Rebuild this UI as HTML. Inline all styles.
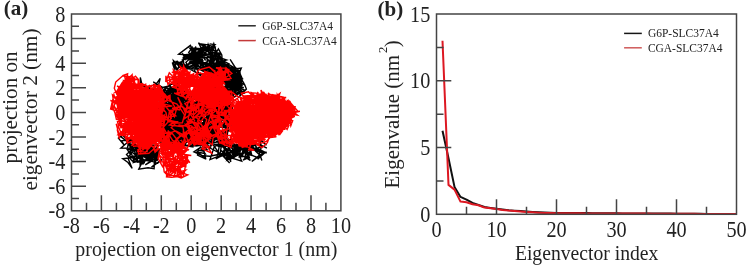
<!DOCTYPE html>
<html><head><meta charset="utf-8"><style>
html,body{margin:0;padding:0;background:#fff;}
svg{display:block;will-change:transform;}
text{font-family:"Liberation Serif", serif;fill:#222;}
</style></head><body>
<svg width="749" height="268" viewBox="0 0 749 268">
<path d="M218.6 55.8 209.9 57.3 196.0 58.4 194.7 71.3 201.2 76.2 198.2 72.1 192.5 58.6 184.5 55.8 193.7 62.5 203.5 60.8 189.4 60.1 197.8 56.9 185.4 58.4 182.3 53.2 185.8 59.5 194.9 48.2 198.9 62.1 187.7 68.9 198.1 69.0 191.1 61.1 200.0 66.8 204.8 64.6 217.1 70.4 217.3 62.6 219.4 56.1 223.1 62.6 216.7 53.1 213.8 43.6 210.6 51.4 210.2 58.9 217.4 57.8 M199.7 49.2 202.4 63.7 195.2 62.9 186.7 69.5 182.9 65.4 196.4 62.7 201.5 56.4 201.2 47.2 214.9 47.9 208.9 45.1 202.8 51.0 198.5 42.7 207.7 49.8 199.5 49.8 203.7 46.7 196.7 59.9 192.9 65.9 200.4 53.7 209.2 45.7 212.1 58.0 216.8 50.7 213.3 63.9 226.6 60.0 220.8 58.0 221.8 63.8 214.3 65.8 216.7 61.3 221.9 64.6 216.4 67.6 217.1 80.0 224.6 75.3 M216.6 63.7 213.8 70.2 226.4 72.4 225.2 64.3 220.7 67.7 213.0 62.0 219.5 54.8 222.4 61.3 214.0 71.4 214.1 65.5 210.3 71.7 216.9 73.4 204.4 66.7 213.3 73.2 219.4 77.2 218.7 72.0 218.7 63.4 222.5 58.8 217.8 67.7 220.6 73.5 225.9 67.5 228.7 77.6 223.8 68.3 230.8 67.7 225.5 66.4 225.7 79.2 216.1 83.1 219.5 77.3 223.3 63.5 218.0 60.0 216.2 70.5 M194.2 53.0 183.2 57.5 184.0 67.4 195.8 59.6 192.5 55.2 178.7 54.2 190.4 45.4 193.7 52.1 208.0 55.8 202.7 50.3 208.9 48.7 195.5 53.5 185.9 62.3 190.1 69.4 202.4 61.5 195.1 56.1 192.9 63.3 199.8 63.5 211.0 65.0 214.6 58.9 207.2 56.8 207.1 68.7 212.4 54.9 198.9 55.7 190.9 51.9 201.1 60.1 200.9 49.7 190.2 49.7 199.6 49.7 196.5 58.2 192.5 49.1 M211.4 67.6 222.7 67.2 221.8 54.9 218.4 48.8 212.7 58.5 208.1 44.5 206.8 49.6 213.9 60.2 213.0 66.9 213.9 61.9 216.6 53.2 213.4 62.3 218.3 71.1 227.2 77.4 235.8 81.3 234.1 74.9 229.0 69.0 221.8 67.7 232.7 72.7 227.4 64.6 219.9 65.4 218.3 58.0 218.7 69.6 225.5 66.5 216.0 61.4 224.6 73.0 231.3 83.9 223.8 86.8 229.1 91.5 242.2 85.2 238.1 76.1 M230.4 83.7 231.7 90.9 231.8 76.1 229.6 86.4 235.1 91.0 227.2 80.7 220.3 77.7 215.6 71.1 205.7 68.8 217.4 63.6 221.0 72.9 213.2 75.6 202.2 68.8 216.0 66.1 204.2 63.2 209.2 60.5 197.9 51.0 200.5 56.4 203.2 65.3 194.0 54.6 188.0 54.5 191.8 58.3 201.8 50.6 190.1 54.7 190.1 63.0 193.7 58.7 193.0 51.1 201.7 59.0 207.1 50.6 214.9 44.6 209.6 43.9 M210.7 63.2 204.4 68.5 208.4 72.5 211.5 62.7 208.3 69.7 203.2 69.0 194.7 64.8 186.4 67.3 195.9 72.4 205.4 75.4 207.9 67.0 201.1 62.2 208.4 63.5 212.5 68.1 222.9 63.9 224.5 69.3 216.0 58.8 218.7 71.9 205.7 73.0 211.5 69.4 223.6 75.4 219.3 78.2 229.2 83.3 221.1 78.9 226.1 78.5 222.3 67.8 230.1 67.5 221.5 61.0 227.9 67.9 236.9 70.0 230.1 59.4 M197.9 53.8 190.8 60.3 185.8 68.5 182.4 59.8 194.4 57.6 204.5 68.3 211.9 69.5 220.5 66.8 223.5 61.7 215.2 73.6 223.6 80.0 220.7 74.5 228.8 64.5 236.4 69.1 233.6 78.8 223.0 88.0 230.8 87.6 239.1 81.2 239.6 72.9 238.5 83.2 239.3 69.8 237.4 81.7 225.5 73.3 220.5 69.2 218.3 80.9 212.8 79.7 208.6 69.1 215.0 63.9 211.9 69.4 211.7 75.3 208.6 65.1 M205.6 60.5 201.2 53.7 203.5 65.9 194.0 56.2 192.2 47.6 188.7 52.6 195.4 61.1 208.0 69.2 220.5 76.0 218.3 64.3 215.9 68.7 221.8 67.2 228.7 63.8 217.9 58.1 205.4 65.1 206.9 73.0 202.0 69.4 208.1 64.7 194.1 61.2 202.6 69.8 216.0 76.1 203.8 71.6 194.0 66.2 197.9 70.4 191.9 58.5 195.9 46.5 194.2 52.8 199.1 59.1 189.7 48.0 202.9 48.8 207.1 51.9 M216.3 69.4 208.3 74.7 210.4 63.5 215.4 51.1 203.0 48.7 197.0 56.4 207.1 51.4 218.7 54.5 211.9 48.3 212.8 59.4 209.4 64.6 198.6 61.6 198.9 55.3 191.8 56.2 200.4 53.6 200.6 68.4 209.2 64.8 216.4 71.5 220.0 75.2 223.5 64.2 215.0 66.4 220.6 53.4 214.6 52.5 201.8 55.4 203.8 48.4 214.2 47.8 208.4 50.9 205.4 46.0 199.2 43.6 206.3 44.6 216.1 47.1 M229.1 72.4 234.2 81.5 234.1 87.2 229.1 76.3 238.0 69.9 238.7 75.3 231.8 74.9 224.8 79.1 229.6 73.2 229.6 79.4 228.3 71.1 226.1 74.5 230.9 74.4 239.2 77.0 238.2 87.6 244.6 90.0 241.1 93.6 240.4 85.4 231.6 79.9 235.6 79.2 228.6 72.0 222.2 72.4 218.7 69.8 225.4 79.4 221.3 69.5 222.8 61.7 226.4 65.7 227.7 76.9 233.6 78.1 237.8 80.2 240.1 71.5 M242.4 90.5 235.0 93.8 230.2 89.8 227.3 92.7 225.4 89.1 221.5 86.7 221.6 81.1 231.1 86.4 240.3 84.0 234.8 75.4 227.9 75.5 229.8 69.6 230.7 77.5 221.7 72.0 217.7 74.3 227.2 67.0 231.6 71.6 226.7 70.9 236.3 67.8 226.6 66.8 230.0 74.1 225.2 82.8 226.0 72.0 235.0 70.7 225.5 72.9 219.3 64.4 222.9 66.1 222.1 74.1 230.9 78.9 230.9 68.7 234.4 72.6 M231.7 84.2 230.1 91.7 240.7 94.0 235.6 87.7 229.9 87.4 232.9 83.1 236.6 85.4 229.0 82.3 236.2 88.4 239.7 83.9 236.2 89.9 241.4 84.3 239.1 72.6 238.3 77.8 228.5 79.7 230.5 84.4 229.6 92.8 233.1 83.5 231.5 74.9 230.8 68.3 227.8 64.9 221.7 65.5 226.0 68.7 223.5 73.2 228.1 76.1 227.5 71.8 229.5 75.8 228.6 82.3 235.4 88.5 241.1 86.9 241.9 79.1 M237.8 86.6 230.8 82.2 241.5 81.5 234.5 85.8 243.8 93.3 235.4 94.3 230.9 94.2 240.1 89.1 235.6 79.1 230.5 79.3 234.9 82.9 236.5 89.8 225.1 89.3 233.4 95.7 236.5 85.7 230.4 86.8 236.2 86.3 233.3 77.5 227.9 75.7 227.5 66.1 229.1 70.7 227.6 76.2 225.7 70.2 232.7 76.9 237.5 73.9 230.6 72.2 224.1 74.1 223.9 79.6 226.7 86.9 224.7 91.9 228.4 87.4 M229.6 90.1 239.6 85.7 241.7 81.4 231.6 79.3 233.6 75.2 232.1 69.1 233.4 74.2 232.5 78.8 233.9 73.1 225.6 65.4 225.6 76.9 227.8 72.5 228.1 76.9 234.8 71.2 235.5 77.3 228.1 86.1 235.0 89.4 234.2 93.6 230.9 89.0 235.8 90.6 236.5 81.5 234.3 76.9 242.2 78.6 240.3 74.2 238.5 82.8 231.6 92.4 241.6 93.4 238.3 97.7 246.4 89.1 244.7 84.8 239.7 82.0 M229.9 86.4 231.0 81.3 230.6 76.9 234.9 86.5 226.3 80.3 229.4 76.2 231.4 81.0 223.3 72.4 226.2 79.3 220.7 86.5 231.9 88.2 231.4 94.4 236.4 91.1 233.2 94.8 228.6 94.2 232.4 87.6 230.0 78.0 225.0 76.1 229.3 72.8 228.7 79.3 228.1 85.8 223.4 82.7 234.1 83.4 231.1 90.0 240.2 85.3 231.4 86.5 238.0 80.6 236.3 85.5 233.2 82.8 237.9 79.7 234.8 85.6 M230.6 82.7 224.5 84.1 229.9 83.4 233.6 74.4 228.5 71.3 221.6 67.1 224.0 72.2 225.3 67.3 224.1 63.4 215.7 69.9 220.3 65.5 225.0 74.8 229.7 81.1 232.6 73.4 231.6 77.5 233.5 84.6 227.0 80.6 233.5 82.2 236.8 87.0 229.9 79.2 232.9 75.0 237.8 75.9 230.9 85.2 233.7 93.2 240.1 85.5 239.2 73.7 232.9 74.4 224.7 66.2 234.4 72.2 239.0 75.2 231.1 80.1 M238.4 80.5 227.8 76.3 235.9 83.6 240.8 82.1 240.1 73.0 232.0 69.2 241.3 68.1 239.6 72.1 236.1 76.8 241.2 78.3 236.5 79.4 240.0 81.8 229.0 81.9 227.1 88.8 231.9 82.0 229.8 93.5 234.4 97.1 241.1 92.1 232.7 89.3 225.6 80.0 224.7 75.6 228.4 73.2 223.0 75.1 222.8 68.9 222.8 78.7 233.3 84.0 243.8 87.7 238.7 86.7 231.5 84.9 232.9 75.5 235.4 71.6 M230.8 86.8 234.1 84.0 233.9 88.1 244.0 83.4 239.2 75.3 234.2 78.4 240.3 79.7 240.6 85.4 238.3 80.5 234.4 75.6 238.5 71.6 M212.6 101.1 219.3 97.2 210.4 90.3 205.2 88.5 197.1 86.4 200.8 81.9 207.2 78.7 217.1 81.4 216.0 90.1 208.2 96.8 207.0 88.3 211.6 93.4 205.5 93.6 207.5 83.0 202.6 86.2 206.2 84.0 202.4 91.4 209.7 97.1 215.8 96.6 206.8 97.6 204.3 101.4 211.6 102.3 218.1 108.3 211.9 114.4 217.4 111.4 221.3 112.3 210.0 109.8 208.4 115.7 215.1 114.8 222.1 123.2 220.1 118.8 M184.5 136.4 183.4 130.6 191.5 129.5 198.8 130.0 207.7 131.1 216.0 134.5 213.1 128.3 212.8 124.1 207.6 113.7 199.1 116.1 194.9 121.0 189.6 117.3 190.2 113.2 189.6 106.7 191.5 101.1 182.7 104.9 179.8 110.9 169.8 115.0 165.0 122.9 159.5 124.6 162.4 120.0 165.6 111.4 162.7 115.6 164.4 109.7 158.0 113.3 162.6 110.8 173.0 107.0 162.4 111.6 164.1 121.4 159.9 114.5 156.7 119.4 M202.0 122.1 202.1 126.4 196.5 126.0 192.6 127.8 198.4 133.4 206.6 134.4 210.8 131.8 219.0 130.4 224.4 132.6 228.1 129.3 226.5 140.3 220.5 134.8 221.2 130.5 216.9 131.0 209.0 130.2 215.4 133.3 210.9 135.5 209.1 125.3 216.5 127.3 207.8 125.0 211.1 122.1 211.5 115.6 207.9 117.6 206.8 126.3 207.6 131.2 202.2 141.7 205.7 138.1 214.8 134.4 207.9 133.1 204.5 140.6 202.8 133.0 M210.0 110.1 219.0 116.5 229.6 118.1 228.6 113.4 218.8 109.2 221.4 114.7 221.5 107.5 216.1 111.6 223.0 115.6 214.5 120.8 210.9 111.4 203.0 110.6 207.2 107.5 207.1 96.2 197.9 99.6 197.3 105.1 195.0 110.5 201.1 108.7 191.8 114.3 191.2 120.0 184.2 120.9 180.0 126.0 187.4 135.3 181.1 130.8 184.8 123.2 182.8 112.5 181.6 100.9 182.3 106.7 177.1 96.3 177.3 101.8 181.0 110.7 M214.2 102.0 216.1 106.4 220.6 110.5 218.4 114.1 215.0 117.3 214.7 109.4 210.0 119.4 203.2 122.5 203.1 130.7 200.1 124.5 195.2 116.5 197.2 112.1 192.7 119.3 188.7 112.3 186.0 121.7 180.0 113.9 172.2 122.2 178.8 127.5 173.2 120.2 171.4 125.5 173.4 116.0 176.9 123.7 173.2 126.7 178.0 128.4 176.7 137.8 184.9 129.7 186.5 125.4 191.8 125.3 188.2 117.6 195.5 123.8 192.1 117.5 M169.6 95.1 165.1 98.5 160.0 96.1 160.9 92.0 169.9 84.6 179.3 83.3 173.9 84.6 181.7 86.5 173.7 89.4 170.5 86.3 171.0 90.9 180.9 86.4 185.3 87.6 189.6 94.4 182.4 92.7 179.8 99.9 175.4 103.1 174.1 96.3 165.4 94.7 171.1 94.8 175.9 100.8 177.2 106.0 179.3 109.6 183.2 116.5 190.7 117.6 189.4 113.4 186.1 115.9 187.0 120.6 191.6 128.3 194.7 131.4 193.1 141.6 M195.5 105.6 202.1 106.8 200.2 110.9 207.8 115.6 206.1 111.9 200.6 112.5 195.1 122.3 190.9 128.9 187.1 123.0 182.2 117.7 185.2 124.4 177.2 122.0 168.5 128.1 159.8 135.7 163.3 128.4 171.5 123.5 176.7 124.9 178.8 120.7 175.3 115.1 176.7 110.9 184.1 113.2 176.9 103.7 180.4 113.4 176.9 118.9 179.4 113.8 190.8 112.2 195.7 111.7 198.4 122.2 187.2 121.8 194.8 114.9 191.7 111.9 M172.0 124.0 175.5 134.6 169.9 135.8 163.0 129.7 167.7 124.9 163.1 126.5 154.4 120.6 160.4 123.8 168.0 127.4 159.8 131.7 156.0 138.1 154.4 127.2 161.9 124.8 158.9 135.9 167.0 141.4 157.9 140.3 157.7 134.1 156.6 138.8 157.4 129.2 168.3 127.8 171.7 133.3 163.5 132.0 167.3 127.0 175.2 120.1 175.7 130.6 181.3 136.6 183.5 140.4 184.5 132.8 187.1 121.2 188.7 125.0 186.4 128.7 M223.5 92.3 219.7 85.2 217.4 88.8 222.8 88.7 212.0 84.1 209.4 88.5 217.0 90.7 220.1 83.6 213.1 83.0 211.9 87.4 214.3 83.2 208.4 85.4 206.7 93.4 209.5 96.7 210.4 104.3 209.5 110.8 213.2 114.1 213.3 108.0 217.1 110.0 217.3 99.3 214.7 105.6 221.4 103.0 222.4 107.2 215.9 101.8 209.6 105.4 197.9 105.8 196.3 101.1 204.0 108.6 215.0 104.4 204.2 109.4 202.2 117.6 M195.0 116.1 199.5 113.1 195.3 104.9 204.8 108.3 208.7 118.2 219.8 121.7 216.2 125.0 222.5 124.5 225.5 128.4 229.5 126.1 219.9 127.0 226.6 127.9 228.3 119.5 221.0 117.7 223.8 112.9 223.2 118.5 226.3 121.2 216.3 119.6 209.0 117.7 203.7 113.8 199.1 118.5 189.6 111.4 196.5 103.3 202.6 102.4 192.7 102.4 188.9 97.4 181.4 99.7 189.8 91.3 181.5 94.5 171.9 99.3 182.0 103.3 M208.4 91.2 197.8 87.9 204.3 80.7 201.8 88.4 195.4 95.0 190.9 92.3 184.8 98.8 190.5 102.0 198.7 103.6 189.0 101.4 194.9 91.8 189.3 97.2 188.0 102.6 184.2 99.9 181.8 103.1 184.3 108.8 176.9 108.2 172.9 101.9 182.3 100.7 173.0 104.3 176.7 105.9 166.9 111.2 163.2 117.6 167.4 113.8 175.2 118.6 182.7 115.4 187.7 118.4 192.9 111.9 202.2 110.9 204.1 117.0 209.6 123.1 M210.3 108.9 201.9 103.9 192.7 107.1 187.2 101.3 189.2 105.7 196.4 102.2 192.3 111.4 192.6 122.5 191.8 116.6 192.8 122.8 203.9 126.6 205.6 132.8 209.5 139.7 212.1 133.3 208.7 125.7 203.9 128.2 200.7 131.5 196.7 132.6 189.4 131.7 183.2 136.8 187.3 142.0 193.8 143.8 186.9 137.0 179.7 132.2 178.1 138.6 186.3 134.4 178.8 138.3 172.6 141.6 171.1 135.2 177.9 131.2 166.9 133.6 M185.1 109.1 179.5 109.7 181.9 113.8 191.6 108.8 188.0 111.5 183.5 122.1 190.9 119.6 190.0 131.3 182.7 127.7 184.7 139.5 183.5 128.3 180.6 118.7 169.3 121.9 169.7 116.6 168.7 124.6 175.5 117.3 172.7 110.5 172.3 118.8 169.0 121.6 165.3 117.2 164.4 110.3 165.9 115.4 165.4 107.5 170.3 114.3 166.1 111.0 158.3 103.2 162.9 103.4 169.2 103.5 171.2 107.2 165.7 117.6 168.0 110.9 M162.9 114.7 157.7 109.3 163.4 109.5 170.4 115.7 176.4 119.8 177.6 127.3 170.1 118.2 174.6 114.8 167.8 106.9 160.0 109.4 170.6 105.1 164.2 104.3 165.5 112.4 169.5 114.4 168.9 104.3 177.8 105.6 170.0 105.2 166.4 110.4 163.3 118.4 160.4 114.4 160.8 119.7 160.7 109.9 166.7 119.9 171.7 113.5 166.5 119.6 163.2 113.8 159.7 120.9 162.0 111.2 167.0 114.7 158.1 119.4 165.0 121.6 M202.1 106.2 196.1 106.1 189.9 103.5 199.4 105.9 193.0 113.3 194.1 119.0 186.9 113.4 195.0 119.6 189.2 125.1 191.4 131.9 188.9 120.9 197.0 114.3 202.1 113.6 206.1 110.7 212.1 108.6 218.3 104.5 220.6 114.8 217.6 121.8 217.5 125.9 214.6 132.4 213.6 137.0 211.8 142.4 205.1 139.7 205.3 129.2 205.3 134.8 216.3 132.6 211.7 130.8 222.2 134.7 222.2 139.7 223.5 132.3 218.6 132.9 M208.9 138.3 212.1 133.7 202.6 135.3 208.7 132.6 204.7 131.7 202.7 137.3 199.8 132.7 206.2 131.2 211.9 131.4 220.8 132.2 225.4 140.0 220.9 146.4 220.6 141.6 217.7 136.7 224.9 139.0 213.8 143.0 211.1 134.3 211.3 126.8 206.5 133.4 197.7 135.0 194.8 143.6 195.2 135.2 197.3 129.7 191.1 128.3 191.1 122.9 194.0 129.4 182.7 132.6 187.6 122.3 197.5 122.8 206.1 125.9 208.8 120.5 M185.5 119.5 188.2 114.7 185.0 125.0 177.5 125.7 179.3 131.5 171.3 128.3 173.8 133.3 165.6 135.7 159.9 126.8 167.4 126.9 177.4 129.7 174.9 138.4 164.1 138.6 168.4 138.8 177.6 142.6 182.8 142.5 178.2 140.1 176.9 135.8 183.1 126.2 174.4 118.2 172.7 122.9 174.1 118.4 165.3 125.1 161.2 115.1 160.5 122.1 169.1 117.9 159.2 117.4 160.7 128.4 156.0 122.0 162.5 116.3 166.4 112.7 M211.3 137.4 207.0 135.3 200.3 143.2 205.5 135.1 199.3 127.0 196.7 130.8 192.8 138.8 192.0 133.3 183.6 139.6 187.6 138.5 191.5 131.1 188.9 137.4 196.5 145.7 206.7 145.2 197.9 139.9 192.8 130.2 188.3 132.2 182.8 135.6 173.5 130.0 176.7 138.9 176.0 132.8 176.8 141.1 173.0 136.5 182.3 130.8 189.9 134.7 183.4 128.2 178.3 134.8 172.0 139.7 177.2 143.7 185.6 137.7 189.4 140.1 M211.8 127.2 207.4 128.8 213.4 123.5 214.2 132.6 217.6 129.7 210.0 122.4 214.8 124.6 219.7 125.4 209.3 121.7 202.4 119.1 207.4 122.3 216.0 130.4 215.3 119.3 224.1 111.6 226.3 104.7 226.1 100.0 216.7 101.8 219.1 97.5 215.4 95.1 213.5 99.2 219.7 100.3 224.0 91.6 223.9 96.8 226.7 106.3 219.4 102.3 222.8 107.3 213.8 114.8 221.5 112.0 219.2 107.0 212.5 103.2 221.2 97.6 M164.2 96.7 159.7 89.5 168.6 96.5 160.0 101.0 167.7 100.9 161.6 95.9 171.0 94.9 178.2 103.3 185.3 105.3 188.9 95.0 198.9 95.9 204.0 90.3 210.5 95.9 220.1 89.8 217.7 93.2 227.9 96.5 226.0 100.1 229.8 98.6 226.4 105.6 220.8 109.8 209.6 113.3 206.6 108.2 202.0 108.1 202.1 112.3 198.1 121.8 198.8 126.4 193.3 118.4 198.9 109.4 205.4 107.2 214.5 100.5 223.7 106.0 M222.9 92.1 214.4 89.1 207.2 89.0 207.1 100.3 211.4 108.2 207.0 106.1 210.8 111.7 213.4 102.0 217.7 96.2 220.5 85.1 209.7 88.3 206.4 98.0 217.2 97.8 215.7 92.5 208.8 88.8 206.9 94.0 203.7 97.6 194.3 97.0 198.2 102.3 196.6 113.5 200.9 110.2 204.5 114.0 199.0 120.2 196.5 126.3 202.9 129.9 197.5 127.2 201.5 130.4 191.4 134.5 189.1 144.6 198.3 145.6 193.2 144.7 M223.5 138.2 217.6 136.1 223.5 145.0 223.1 139.7 219.6 136.8 211.6 141.9 206.9 142.7 201.6 136.5 194.3 132.2 187.0 127.3 180.5 119.6 171.0 119.7 168.6 123.8 168.5 132.0 165.0 129.7 172.2 138.7 166.2 140.9 159.9 140.3 155.6 138.7 162.7 143.8 171.9 140.9 179.4 141.8 173.1 133.2 179.8 138.7 182.3 133.9 174.9 127.4 176.9 132.5 183.1 122.6 190.8 117.4 187.7 125.9 182.4 132.7 M192.2 132.8 200.0 140.9 190.7 143.0 196.0 137.8 195.3 128.9 193.3 136.4 192.9 147.0 184.3 145.4 188.1 140.1 182.8 136.1 183.7 130.6 189.3 128.5 199.9 123.6 201.7 112.3 202.9 106.0 195.2 105.6 189.6 97.8 194.2 99.1 204.1 98.9 204.1 93.8 214.4 90.5 220.8 86.7 219.2 90.5 214.0 87.2 219.7 91.0 210.0 84.8 209.8 89.4 221.0 89.6 216.0 84.3 214.1 90.2 212.8 82.7 M212.8 108.2 214.9 104.1 211.3 108.4 212.1 103.0 221.6 99.6 220.7 91.2 211.6 83.9 204.0 88.3 199.4 91.4 189.4 93.0 182.1 100.7 179.4 104.8 173.4 106.2 168.7 111.8 162.9 102.2 169.7 100.6 169.5 93.4 173.0 91.2 168.4 89.8 174.8 94.3 164.9 95.4 154.0 96.0 158.3 92.0 154.4 96.0 161.7 96.0 166.2 88.3 162.8 91.0 159.5 88.2 170.3 85.7 169.4 91.4 178.3 88.5 M209.3 127.8 208.1 135.9 217.7 135.5 206.5 138.7 203.1 142.4 203.3 136.9 209.4 135.3 200.6 134.9 205.4 132.0 199.9 133.0 193.2 135.0 204.9 134.0 196.9 142.4 189.4 142.1 198.4 134.2 205.6 129.7 208.4 135.5 205.4 138.7 214.0 132.2 209.5 138.3 211.0 132.1 200.8 128.8 208.0 129.0 212.1 137.0 210.9 145.9 202.6 148.4 203.0 137.6 203.7 127.6 196.5 123.0 194.3 117.2 192.4 109.7 M183.9 106.2 186.4 112.9 184.7 105.0 182.9 110.0 185.1 121.4 190.2 119.0 193.0 125.7 191.9 129.7 188.3 119.8 177.4 117.6 171.2 115.7 162.4 118.6 160.9 113.5 166.6 113.1 160.9 122.3 162.0 126.3 172.3 129.4 169.9 135.8 177.6 133.1 178.6 138.5 185.1 136.6 181.5 130.6 173.0 134.2 165.5 142.6 174.2 137.9 162.8 134.2 163.9 122.3 170.2 130.2 173.6 138.3 166.5 130.7 171.4 132.8 M171.3 139.6 161.9 135.3 161.3 130.5 168.4 132.2 171.2 126.5 165.5 125.1 171.8 128.5 171.6 133.7 177.9 128.4 177.7 132.9 178.6 137.4 170.2 135.5 169.5 129.4 164.3 121.6 164.3 129.6 167.4 120.9 159.7 116.7 155.6 109.3 153.1 112.5 155.7 117.8 159.6 122.8 165.2 129.1 163.1 117.7 160.0 112.7 163.2 116.2 166.3 109.4 176.6 111.0 170.0 117.7 180.0 118.2 187.5 110.1 183.7 107.0 M223.7 126.7 225.9 117.4 232.7 121.6 232.3 115.5 232.3 107.2 223.8 108.7 215.1 100.8 212.1 109.7 215.8 113.8 225.3 109.9 218.8 112.5 224.3 113.3 220.2 110.1 225.0 117.9 227.7 107.5 232.0 103.4 227.7 100.4 221.3 100.2 213.6 99.5 206.4 105.1 207.8 112.3 214.8 115.8 210.0 115.6 218.2 120.7 223.1 123.0 226.3 129.6 224.7 125.3 218.2 123.9 208.6 128.6 210.7 133.5 207.8 129.2 M209.9 120.8 216.1 123.9 226.2 125.7 228.0 116.5 223.8 122.8 231.2 123.4 227.6 125.6 227.2 130.4 229.3 125.3 226.5 117.5 218.1 113.6 224.1 115.0 222.6 109.0 227.0 102.5 226.1 97.4 217.7 96.4 216.6 104.1 209.9 101.4 203.2 103.4 209.8 101.2 207.6 97.8 197.8 93.9 208.9 97.7 201.8 101.6 198.2 106.3 194.5 109.9 184.7 109.1 179.0 99.3 185.0 97.6 192.3 94.9 186.3 99.4 M188.2 123.5 180.3 124.4 183.4 132.3 184.7 122.1 189.9 119.1 185.2 116.0 181.1 118.6 180.1 111.5 185.3 120.1 187.9 131.4 188.8 142.0 192.7 141.3 191.6 135.4 187.2 135.4 189.4 141.9 193.9 141.9 196.1 136.1 189.3 136.3 196.1 140.8 198.7 134.8 203.3 126.6 200.1 131.3 197.1 140.3 192.9 129.5 191.4 125.1 185.1 131.8 186.0 126.2 192.6 118.5 196.2 122.1 191.9 124.6 199.7 119.6 M228.0 104.5 228.4 99.3 224.2 90.9 223.9 97.5 226.1 93.7 228.7 97.6 226.3 89.4 224.6 93.4 223.2 97.3 221.7 104.5 227.6 96.3 227.6 91.0 224.6 95.0 228.6 94.2 223.5 95.8 218.5 95.7 225.4 97.8 231.4 100.1 227.2 102.4 225.1 111.5 228.8 116.2 228.5 123.3 233.0 127.6 224.3 134.0 219.8 134.2 217.8 138.4 210.9 142.1 211.4 131.7 207.6 124.3 210.6 133.0 201.8 131.6 M206.7 128.9 207.7 122.0 200.3 126.9 193.4 129.1 198.6 124.3 191.0 127.4 185.4 126.2 189.3 119.3 182.2 115.7 183.5 124.9 190.4 122.2 193.2 126.5 198.5 123.6 199.9 134.4 200.9 128.6 199.1 140.3 192.3 136.4 202.6 136.1 193.8 137.5 196.3 145.4 199.4 142.8 203.7 137.8 205.1 132.2 215.0 137.2 226.1 138.4 220.1 140.8 214.6 139.0 206.9 144.1 207.3 138.3 198.6 134.1 195.1 143.4 M177.3 122.5 172.4 129.4 180.6 126.0 175.4 131.8 180.3 130.7 181.0 124.8 175.7 130.5 176.5 137.3 180.1 144.4 188.1 145.4 196.8 146.0 197.1 135.4 198.0 130.8 192.0 128.5 184.8 129.7 190.4 128.0 196.2 135.6 190.0 140.4 195.4 132.5 193.6 127.5 203.3 132.8 209.8 131.7 203.4 123.1 196.6 123.8 206.0 117.5 213.0 125.9 212.9 118.6 212.7 113.8 216.0 119.7 217.8 128.7 221.1 131.6 M172.7 118.6 181.8 112.9 192.4 115.6 182.5 112.4 175.8 116.6 171.0 111.8 171.7 122.2 177.1 125.0 176.7 113.7 182.1 109.8 181.8 103.0 186.8 95.2 193.0 93.9 203.7 92.7 198.4 102.3 192.2 106.1 202.5 100.3 202.9 95.1 213.5 92.8 221.0 93.1 212.9 90.2 214.8 82.8 219.0 80.8 221.3 87.1 213.6 95.1 205.0 90.7 214.0 88.1 212.9 80.8 219.0 83.0 215.5 86.8 210.2 83.9 M171.7 131.0 170.3 141.8 166.6 137.5 159.8 141.0 160.4 129.9 159.0 121.4 159.9 114.6 154.5 109.7 159.4 113.0 150.8 109.4 152.2 102.1 157.8 96.0 165.1 92.8 174.0 99.8 178.0 100.4 179.8 91.7 180.1 99.5 177.1 96.3 186.5 101.9 193.2 98.6 198.8 100.8 193.6 105.1 198.1 99.7 196.5 105.6 200.4 108.0 193.2 109.3 198.6 104.9 206.3 113.0 203.2 115.7 199.3 118.8 205.7 118.7 M184.5 122.1 179.3 125.7 173.5 125.9 170.3 136.4 173.7 130.3 166.3 126.2 161.6 120.9 162.2 116.9 167.3 122.1 174.7 118.8 173.7 114.1 167.1 113.6 174.9 120.3 181.4 129.5 175.7 136.6 177.4 124.8 173.6 120.8 184.2 125.1 188.1 130.3 181.8 127.6 181.5 132.9 191.6 129.0 188.3 133.2 196.4 141.6 191.5 141.4 186.0 139.7 182.4 132.9 183.0 141.3 176.3 134.2 186.0 141.1 196.6 136.9 M219.9 108.3 221.4 101.7 210.4 103.6 214.6 93.7 211.3 104.5 206.6 104.4 214.5 97.5 207.0 94.5 195.8 95.5 199.7 90.4 203.9 101.3 211.4 105.5 209.7 98.4 211.6 104.8 212.2 109.1 203.6 106.8 198.6 102.5 208.7 103.4 200.7 99.0 203.6 102.8 202.3 94.6 195.3 97.8 203.6 101.7 207.0 96.6 203.2 104.8 210.7 102.7 204.7 102.6 201.8 107.0 199.6 96.0 205.2 94.4 205.9 88.7 M211.9 112.7 205.0 103.5 199.8 100.9 198.3 92.5 200.6 82.6 200.9 88.3 200.9 98.6 210.2 93.1 212.2 86.3 208.3 90.9 218.7 88.3 213.2 80.8 217.2 90.6 219.5 94.7 221.8 98.3 226.4 105.6 221.8 113.0 218.7 103.2 215.1 108.5 207.8 117.6 204.8 114.6 198.3 106.0 200.8 110.0 209.4 104.4 214.9 98.6 204.7 95.5 215.3 91.8 222.2 94.2 228.8 86.5 220.9 87.6 218.4 91.4 M166.9 94.1 172.4 101.6 179.7 103.1 174.5 105.5 167.6 109.6 171.5 105.9 175.5 116.2 170.7 112.8 172.6 122.9 182.1 115.8 187.0 125.1 191.3 114.5 201.4 117.2 196.9 107.6 186.2 106.4 187.1 99.5 177.3 104.8 173.0 105.2 179.9 101.9 170.2 103.5 174.2 108.6 180.6 118.2 170.5 113.9 173.5 117.8 169.5 120.4 167.3 116.7 173.0 114.6 178.5 115.5 177.5 107.0 181.3 98.0 177.2 99.1 M227.7 109.7 228.6 104.9 230.8 110.4 230.6 103.7 227.0 112.1 216.3 109.1 224.1 111.2 225.1 100.1 221.9 105.6 215.4 114.4 224.3 118.3 227.9 112.6 221.4 105.6 210.8 109.7 202.5 117.7 191.7 121.7 187.8 117.4 194.8 123.3 190.5 125.2 193.1 129.4 187.3 130.2 182.5 129.7 182.9 136.6 191.2 130.8 191.7 137.5 188.0 139.7 182.5 142.0 180.2 146.4 171.0 144.9 171.5 138.7 177.9 137.2 M199.8 100.0 207.7 102.2 218.0 98.4 221.7 108.2 210.8 107.6 203.4 110.0 208.7 104.3 210.0 100.3 221.6 101.2 230.1 95.9 226.2 106.7 226.0 111.1 223.3 107.4 215.9 109.7 224.6 115.9 221.3 110.4 221.4 106.0 217.3 103.4 219.9 106.9 209.7 102.6 215.3 103.8 217.5 93.9 223.1 100.6 217.6 91.6 213.6 94.6 211.5 84.0 209.3 87.4 208.4 91.5 214.3 92.4 217.9 97.2 212.8 97.0 M196.1 128.4 202.7 133.4 210.5 135.1 205.1 125.4 211.4 127.9 217.1 137.1 213.5 141.6 215.2 137.0 213.9 141.3 208.1 134.5 204.7 123.6 200.3 113.3 200.5 106.7 203.3 103.6 206.6 98.2 201.3 105.6 208.1 108.3 198.0 114.4 192.6 114.3 182.1 115.6 181.2 126.4 190.4 121.8 184.4 118.7 191.6 116.2 195.9 117.5 185.8 122.9 192.3 117.4 190.6 121.2 187.4 116.6 176.4 118.6 168.6 122.1 M162.2 111.2 160.1 102.0 165.7 93.7 172.3 101.1 176.4 107.6 177.2 103.7 170.1 105.9 175.1 100.9 175.1 110.2 171.1 115.1 164.2 112.3 169.2 104.5 174.0 109.3 162.5 112.4 164.2 118.0 160.7 123.5 158.4 127.9 161.5 120.1 161.1 110.0 157.1 107.2 158.5 96.3 162.6 94.9 160.1 102.0 162.9 107.6 172.5 105.6 168.1 94.6 174.0 88.9 182.0 91.2 175.9 95.5 177.8 106.4 183.5 116.8 M193.9 119.0 190.7 113.5 193.8 119.8 193.0 114.4 196.2 125.4 198.2 133.3 194.1 131.5 189.7 141.1 200.9 141.7 207.2 149.9 200.3 149.9 M175.3 112.7 170.6 113.3 178.2 116.3 180.2 105.9 184.1 104.4 183.7 110.6 181.1 121.2 185.1 115.5 181.4 121.5 181.5 127.8 186.3 117.3 182.4 126.6 176.8 129.5 177.5 135.6 168.4 134.5 174.1 141.9 181.9 137.2 178.2 133.0 183.3 124.9 173.9 119.5 179.7 117.0 176.7 120.6 174.7 129.8 171.8 135.7 165.5 126.8 163.5 122.6 168.5 118.7 164.2 115.6 168.2 104.3 171.6 107.3 163.3 104.8 M178.1 92.5 172.2 93.4 179.4 95.0 185.3 96.2 174.4 91.5 174.1 83.5 176.8 94.2 182.8 91.1 173.7 89.5 172.4 100.8 182.9 106.1 180.7 102.3 185.7 104.3 176.6 100.1 177.4 104.1 188.4 105.0 177.9 101.5 174.8 95.7 175.9 88.0 180.1 88.7 169.3 89.4 173.7 94.7 169.7 94.1 171.8 90.0 164.3 97.0 165.1 104.9 169.2 107.6 175.2 102.3 181.6 94.3 185.7 90.5 174.9 87.6 M169.6 89.1 177.5 95.7 169.5 94.4 167.9 100.0 170.5 97.0 177.5 92.4 170.0 92.1 165.3 95.9 172.0 95.3 164.6 89.5 162.1 100.7 164.6 91.7 172.8 95.9 169.4 102.0 176.0 96.1 176.1 91.4 177.9 87.0 181.6 93.9 183.4 104.1 184.1 111.9 177.3 119.3 169.9 117.9 161.8 121.2 167.9 116.6 171.2 110.2 179.2 111.6 188.0 109.6 179.0 110.5 175.4 107.8 180.0 109.9 173.0 115.1 M167.3 140.5 169.9 144.5 167.9 149.1 174.2 148.8 171.2 139.4 181.8 136.1 172.9 132.6 165.3 130.0 169.7 123.5 175.1 133.1 167.8 139.0 164.4 145.3 175.3 147.2 180.3 145.9 186.5 137.3 179.1 134.7 176.0 123.8 168.2 131.2 164.1 128.6 169.5 125.3 176.6 120.0 172.5 115.5 169.1 110.0 177.7 103.0 172.5 94.9 181.0 99.7 172.6 97.2 173.9 101.6 182.0 96.4 179.0 93.5 186.6 95.2 M175.2 123.7 168.6 133.5 163.7 128.2 166.3 137.5 168.0 145.1 174.5 144.0 185.4 140.4 185.4 134.8 181.3 126.6 176.9 137.2 169.9 130.6 169.7 136.3 170.6 127.2 165.5 124.8 171.3 132.9 182.5 132.5 182.9 122.0 182.2 130.8 181.3 120.6 185.5 122.0 184.6 133.3 173.9 133.8 167.0 139.3 163.7 145.9 174.7 148.5 182.3 139.9 176.2 145.4 172.1 144.5 175.3 134.6 184.3 134.3 183.8 123.0 M168.1 110.3 176.2 108.9 169.6 103.1 169.0 99.0 170.5 94.1 173.1 99.9 169.5 108.2 164.2 116.0 175.3 113.0 171.1 120.2 163.9 128.3 161.7 119.8 166.4 109.9 176.0 106.2 170.1 104.5 164.0 105.6 174.7 102.8 171.2 104.8 177.7 96.2 173.5 98.1 178.9 94.9 182.9 95.1 175.5 94.3 169.6 87.1 176.5 90.1 184.5 96.2 181.2 101.5 187.9 107.6 180.8 105.6 174.4 113.3 168.6 112.0 M169.0 107.0 165.3 105.0 171.3 103.7 176.2 101.9 167.5 100.0 170.9 95.9 172.1 107.0 174.7 114.1 171.6 121.7 182.0 117.8 186.9 128.1 182.5 122.5 180.1 126.1 174.2 130.0 172.4 126.1 166.7 131.8 171.3 136.8 167.2 140.8 159.6 137.0 163.8 143.3 163.8 138.6 169.1 144.0 175.0 139.8 173.6 129.5 167.8 135.2 169.4 145.9 165.8 137.7 165.8 132.2 170.5 139.0 180.7 133.0 176.6 130.1 M181.7 125.3 171.7 124.8 179.7 119.0 179.5 127.9 176.2 123.6 186.8 120.6 181.2 117.8 177.5 113.4 185.7 116.8 186.5 120.9 181.5 127.8 178.5 116.9 175.2 113.2 184.2 119.4 181.5 108.7 183.1 114.5 179.7 117.4 172.6 109.0 171.0 98.5 175.0 101.8 164.5 104.8 168.8 99.3 169.0 108.4 176.1 108.7 180.7 104.5 182.7 99.6 176.3 104.9 172.1 101.3 167.7 100.2 174.4 103.9 168.3 102.7 M182.1 107.3 175.5 112.1 181.0 116.3 180.3 107.5 174.3 107.8 179.2 116.4 182.3 124.1 178.4 132.1 171.8 128.6 172.1 124.0 171.4 129.1 171.1 136.6 165.2 138.3 170.4 142.0 166.1 142.5 164.5 135.0 163.7 126.5 168.2 126.1 166.2 119.2 166.2 126.7 176.0 128.4 171.0 131.7 169.8 120.2 164.0 126.5 166.8 132.3 164.0 127.8 161.9 119.1 162.7 111.7 168.0 120.9 176.8 128.1 179.7 122.7 M176.6 96.3 178.6 99.9 178.4 107.0 172.7 102.3 179.6 107.4 183.5 102.6 176.0 101.6 181.6 110.9 180.1 117.5 175.0 111.9 168.6 103.2 165.9 112.1 171.9 108.2 172.2 101.6 167.1 96.7 163.8 101.5 170.9 92.9 176.1 90.9 170.9 91.0 166.8 87.8 159.1 96.4 162.6 102.2 166.4 93.8 171.7 91.4 163.3 94.8 168.5 95.8 169.1 106.1 178.5 101.2 186.3 103.2 177.2 106.9 178.7 112.0 M175.1 119.1 182.8 128.2 173.0 123.2 170.3 117.0 165.2 118.1 174.1 115.7 186.1 116.1 183.5 107.3 172.4 104.5 173.5 100.1 164.9 100.6 162.5 111.2 164.1 118.4 171.2 111.6 171.6 121.5 173.7 126.0 168.1 117.1 163.0 117.8 163.7 123.5 169.1 132.4 168.0 142.4 172.1 132.2 178.2 135.9 175.7 146.6 179.8 144.6 172.7 137.2 177.8 133.4 179.7 138.6 179.1 133.0 168.3 137.9 170.4 132.4 M172.5 91.6 173.5 103.5 168.1 97.9 164.0 97.4 165.3 108.0 170.8 107.1 175.2 104.8 174.1 109.0 180.8 117.7 175.6 125.3 179.7 124.2 181.8 134.9 171.3 140.1 174.6 136.5 166.7 142.7 165.1 131.2 165.7 121.4 172.0 120.6 167.4 121.0 171.5 119.9 179.4 120.8 184.7 113.7 182.8 121.3 185.1 114.6 180.3 115.3 172.1 119.6 176.6 113.6 183.0 120.4 180.4 109.8 174.1 109.8 163.3 110.5 M165.6 126.5 171.4 126.9 170.2 135.7 172.3 139.6 170.9 133.9 162.0 129.2 167.9 123.4 174.3 130.2 165.3 133.4 171.4 132.1 177.6 134.5 184.3 129.2 185.9 121.3 182.3 114.2 173.3 121.6 176.1 112.7 169.7 114.8 167.0 108.4 173.5 103.3 168.7 108.9 171.6 117.9 179.8 117.6 174.8 116.8 182.9 122.2 186.2 113.7 179.8 114.5 168.9 110.5 174.2 111.3 179.2 110.9 183.2 105.8 184.2 110.1 M179.9 142.6 180.7 146.8 182.6 142.5 184.3 138.7 188.0 129.6 176.9 132.8 171.4 126.5 174.1 129.8 178.1 140.7 170.7 132.8 174.9 131.3 179.6 121.7 183.8 112.4 189.2 121.7 184.3 117.4 176.5 122.1 175.8 117.7 176.1 112.7 172.8 115.9 165.3 110.0 159.8 109.1 166.6 107.6 162.4 103.1 159.9 98.0 160.1 109.1 159.4 118.6 164.0 120.7 166.9 124.6 175.1 127.7 179.6 126.6 175.9 130.3 M168.6 124.9 167.8 136.7 169.3 130.3 166.0 127.4 162.8 122.3 163.2 130.8 159.6 134.1 163.0 126.5 171.2 125.0 165.1 125.8 166.0 121.3 162.2 114.2 171.3 110.8 182.8 109.1 174.9 118.0 166.5 115.8 162.7 122.1 167.4 124.6 167.2 119.1 174.4 118.1 174.4 124.9 178.5 130.9 175.2 126.1 181.1 129.1 186.0 129.2 186.4 133.5 180.3 131.2 178.1 136.8 182.7 127.7 176.6 137.5 172.7 135.4 M184.0 130.3 184.6 136.8 190.0 131.5 184.4 125.9 181.8 117.7 171.0 112.9 167.5 122.7 165.5 127.3 165.9 119.3 175.6 123.2 173.7 132.5 177.8 134.5 173.1 141.5 183.8 140.9 183.7 135.2 182.6 129.8 176.6 136.2 181.5 138.2 175.8 140.4 167.6 146.1 175.6 148.0 165.9 144.4 176.2 138.7 173.5 142.1 164.3 135.7 166.8 131.3 161.3 141.2 169.7 143.9 166.3 135.8 166.3 131.6 168.7 121.9 M184.6 95.6 174.7 98.7 182.4 103.4 176.2 110.0 187.9 108.3 180.8 99.4 178.4 103.1 181.6 96.0 177.2 90.5 181.6 99.0 186.9 98.9 186.5 88.6 182.4 85.4 180.8 93.3 174.2 90.6 179.6 89.7 183.4 98.5 187.7 100.8 180.5 98.5 180.8 107.2 175.4 112.6 168.6 120.2 167.9 128.8 176.5 131.1 170.3 122.3 179.3 116.3 177.8 120.5 179.4 124.7 176.3 115.9 175.0 110.1 172.0 104.0 M182.7 138.8 177.5 132.7 173.0 129.2 168.5 131.2 167.1 127.4 177.3 122.8 186.9 116.6 188.7 124.2 184.1 122.7 190.1 130.0 188.9 120.2 190.9 116.2 187.1 106.5 177.9 103.0 184.0 100.3 185.1 92.2 183.0 95.9 179.8 104.3 173.7 113.9 168.2 123.0 173.2 117.6 179.4 113.1 172.4 106.6 183.0 112.0 177.3 108.7 178.1 115.9 184.8 120.5 180.9 116.2 182.5 124.7 179.8 116.9 184.2 120.6 M176.2 98.7 182.8 92.1 173.1 97.9 169.9 101.1 163.0 102.6 170.3 110.0 176.2 109.5 180.6 111.2 184.2 115.8 177.1 119.7 167.7 126.8 165.3 121.8 177.3 121.8 180.6 111.3 183.2 100.1 183.1 106.4 178.6 107.8 172.3 98.1 180.2 98.1 187.4 95.2 186.7 105.0 188.9 112.3 185.3 120.2 184.5 124.2 188.9 130.8 183.0 121.4 182.3 112.7 189.4 119.5 182.8 113.1 180.0 118.9 185.3 113.6 M172.2 132.7 164.6 140.2 167.9 146.5 164.5 141.8 164.2 137.1 165.2 131.6 175.5 129.4 175.3 118.9 185.2 112.8 184.7 108.4 175.0 105.2 183.8 98.1 182.1 88.6 177.1 86.4 172.7 94.8 166.5 100.3 172.3 97.6 172.7 103.6 176.6 107.3 183.7 107.7 182.1 116.2 178.3 105.2 181.5 114.5 177.5 116.4 175.8 125.1 186.2 130.3 185.2 134.4 179.4 133.2 186.1 127.4 182.7 130.5 176.4 123.4 M176.9 133.7 184.4 125.3 179.4 117.8 173.7 119.5 181.9 114.4 174.2 116.3 184.8 117.5 179.4 120.6 168.0 120.5 168.0 113.4 177.0 110.0 182.1 110.1 189.2 107.0 178.9 107.1 178.6 111.4 184.5 118.1 178.0 120.7 181.7 131.4 182.7 120.6 183.9 114.6 173.7 111.1 171.0 115.1 170.7 123.6 172.4 129.2 166.2 119.2 173.1 109.7 179.0 100.1 177.6 106.3 186.0 110.6 181.1 117.9 177.8 110.2 M183.4 115.3 178.9 124.1 184.3 128.9 190.9 132.8 190.4 127.8 188.6 131.5 181.8 128.0 172.8 126.0 165.9 133.5 169.0 129.0 180.6 127.0 186.2 122.9 178.6 113.7 170.5 112.6 171.0 118.6 166.9 116.6 167.2 121.9 164.7 110.9 169.6 120.5 169.1 125.7 178.8 122.2 186.3 127.0 183.4 131.5 181.2 119.7 184.9 129.9 177.2 133.6 171.1 133.9 175.5 141.2 181.0 139.2 185.3 135.1 181.0 142.5 M177.1 120.6 174.2 124.3 173.7 131.3 168.2 121.8 162.3 117.5 172.7 115.9 179.7 111.8 170.9 106.8 179.7 111.4 176.8 114.6 183.3 104.9 176.4 104.8 170.0 106.3 170.1 117.7 174.9 122.2 166.8 116.6 168.5 111.8 174.5 113.8 170.9 107.0 163.7 111.7 172.7 116.7 173.2 127.2 169.2 131.2 161.7 137.3 165.0 128.8 165.9 120.1 168.8 112.5 165.0 115.2 172.6 114.8 181.0 120.0 181.4 108.3 M168.8 105.3 171.3 95.2 165.8 93.0 168.8 97.5 168.8 87.9 164.1 96.7 165.3 101.0 172.6 98.7 179.7 94.5 181.8 87.6 178.3 95.4 M134.7 153.8 145.6 149.7 137.9 139.1 130.8 140.5 126.2 138.2 132.8 148.5 128.2 144.3 133.0 139.4 136.8 152.3 149.5 149.6 145.3 154.6 152.4 157.6 152.4 145.0 157.8 145.3 153.2 152.1 158.7 150.2 156.0 156.2 147.6 154.4 137.2 147.5 132.4 150.1 141.6 152.0 149.5 160.5 141.3 151.6 135.5 154.2 133.3 162.5 143.6 159.9 140.5 164.8 143.1 152.2 137.0 142.1 146.9 142.8 139.5 153.0 M150.0 161.0 140.3 159.8 147.2 148.4 152.9 159.0 148.5 151.4 154.8 152.5 150.7 146.8 151.5 152.3 148.8 158.3 157.8 160.4 149.9 153.7 154.0 150.8 152.4 159.4 156.5 152.1 152.1 148.3 146.7 156.9 150.3 148.9 145.1 142.5 135.5 138.2 129.1 141.2 127.0 150.2 129.4 138.0 137.3 149.5 130.0 143.7 120.7 136.6 128.3 130.2 118.4 138.1 124.3 145.4 121.6 140.9 135.4 139.0 147.4 142.8 M144.7 147.1 141.2 159.9 134.5 154.3 130.6 150.6 126.5 154.5 132.4 161.1 140.9 155.8 140.1 165.7 140.1 156.1 140.9 164.4 147.6 157.8 149.1 152.8 155.1 154.9 152.2 148.5 158.9 156.7 154.0 163.6 159.3 154.2 147.7 159.3 139.3 153.7 134.6 157.3 122.8 158.7 128.0 162.5 132.2 168.4 128.0 158.2 133.7 156.2 137.2 162.0 145.4 160.6 138.0 162.1 136.7 155.8 130.4 143.9 141.5 148.4 M135.0 143.8 142.8 148.9 154.7 152.6 157.7 157.4 151.4 151.1 140.8 156.6 144.2 160.4 138.3 158.3 139.7 151.1 146.3 158.3 142.6 151.9 142.7 163.2 152.3 154.5 155.8 158.3 151.2 147.2 159.7 149.8 157.5 155.7 155.2 160.4 154.8 155.2 154.1 168.7 148.1 167.7 138.8 169.2 142.1 162.3 143.2 150.3 147.9 147.2 144.2 152.3 139.9 156.3 140.1 148.8 130.5 150.6 134.0 161.2 145.0 162.8 M143.4 164.5 140.9 156.3 136.2 147.6 129.4 155.5 136.4 159.8 137.1 148.3 143.9 145.1 154.5 150.3 155.4 164.0 151.5 167.1 162.1 159.4 157.6 163.3 146.8 159.5 152.0 155.0 152.9 160.5 145.3 164.9 151.6 160.5 140.8 152.1 146.8 153.3 141.5 149.2 132.5 143.2 131.8 137.7 133.3 148.9 127.4 149.7 130.6 154.6 129.6 142.3 119.9 132.6 124.4 136.0 131.0 139.3 120.9 148.0 132.8 148.4 M217.5 146.3 228.5 146.3 226.7 158.4 231.2 151.7 236.8 155.5 248.8 150.1 254.0 149.3 247.8 144.7 258.8 151.6 261.9 160.4 260.2 155.6 254.6 150.3 262.9 153.2 251.8 161.5 258.8 155.7 261.5 146.4 259.1 138.1 266.5 145.3 260.8 140.5 254.6 141.4 250.4 152.9 243.0 160.2 250.0 157.2 244.8 159.0 245.7 153.0 251.9 155.6 245.2 149.8 248.9 141.1 255.6 146.0 248.2 138.6 256.9 147.5 M231.9 151.9 221.2 155.2 210.0 159.6 214.3 146.5 219.6 144.3 217.1 157.8 221.7 155.3 226.1 145.5 232.5 146.8 245.7 151.3 256.4 147.8 266.7 153.2 257.9 150.5 263.0 153.1 257.6 157.6 245.5 152.5 249.5 159.2 238.7 153.9 241.7 161.2 231.3 157.8 223.8 148.1 217.8 142.1 229.3 145.0 239.0 147.0 240.5 157.0 244.8 152.1 249.2 156.2 244.0 145.8 241.9 154.6 249.5 145.3 251.8 155.4 M224.8 153.1 220.4 150.1 230.4 159.2 242.3 152.8 245.1 148.0 250.7 148.4 253.4 143.3 252.5 149.4 244.1 143.8 236.7 144.7 225.7 142.5 213.3 144.9 220.9 155.8 225.8 149.5 231.4 155.6 228.1 159.5 233.3 156.9 219.8 155.2 221.4 145.9 233.9 145.5 239.6 148.0 230.4 141.1 224.4 140.9 230.7 150.6 233.7 156.5 241.1 147.5 249.2 154.2 252.6 144.7 251.8 149.6 265.5 152.2 257.6 159.3 M242.1 154.8 252.7 146.3 245.7 144.0 240.2 148.0 246.6 147.0 234.5 144.9 234.1 157.5 240.5 149.7 239.2 157.0 247.5 156.1 252.3 147.1 241.7 148.6 249.8 141.8 262.1 146.2 255.6 148.8 265.9 152.6 256.3 151.0 248.0 140.5 235.6 140.1 245.9 144.0 240.6 146.5 237.3 151.0 232.4 158.1 235.2 153.1 238.1 144.6 233.7 155.6 235.3 145.9 236.7 153.4 236.6 148.3 246.3 145.8 246.0 152.8 M266.9 148.2 258.8 144.1 247.1 147.6 249.3 159.8 241.5 155.0 235.1 152.0 239.7 149.4 232.6 152.4 223.9 147.1 219.6 142.0 231.5 139.2 223.0 143.0 227.3 146.5 232.2 148.4 235.7 154.0 227.1 159.8 229.9 153.3 239.3 143.9 230.7 151.4 226.5 157.8 227.6 152.5 221.8 153.5 217.3 157.9 229.1 152.8 230.8 161.9 226.3 149.7 232.7 152.0 244.2 145.2 232.1 151.4 242.1 147.7 249.8 154.8 M206.0 159.1 197.5 155.2 198.2 150.1 204.0 151.2 205.5 157.9 196.5 151.8 205.2 153.7 200.7 147.3 193.9 151.8 202.9 155.8 209.8 156.3 222.0 153.8 215.8 159.0 222.3 155.3 229.6 163.1 223.0 155.0 211.4 148.8 206.5 143.9 211.7 143.4 209.0 149.6 211.6 144.8 M152.9 84.4 163.0 87.6 153.2 81.9 159.5 85.7 155.3 84.3 163.3 87.6 156.1 91.7 147.3 88.2 142.3 85.8 140.3 77.5 140.4 82.9 145.9 86.1 153.2 89.7 157.7 88.6 160.2 78.4 155.6 84.8 M175.4 65.4 177.2 70.3 180.4 62.4 184.6 65.8 179.6 64.5 184.4 58.2 178.5 65.6 173.4 60.6 174.4 65.8 177.5 61.6 180.6 66.5 176.0 69.6 174.9 64.5 182.6 61.2 177.5 69.3 172.3 62.5 174.3 68.8 176.2 61.4 181.3 63.1 182.5 67.9 173.8 61.6" fill="none" stroke="#000" stroke-width="1.4" stroke-linejoin="miter"/>
<path d="M150.9 133.9 152.3 126.4 156.2 136.1 152.1 132.5 146.2 125.9 136.8 128.8 129.1 121.4 139.9 123.8 141.1 117.3 143.0 122.8 147.7 123.0 140.7 127.6 145.9 130.6 141.7 130.3 145.5 133.3 149.3 135.0 151.9 146.1 146.8 143.9 143.4 149.4 142.3 145.5 132.9 146.3 136.9 146.0 145.5 144.6 138.6 139.5 143.2 145.5 135.0 138.7 140.0 141.2 146.9 141.9 144.8 147.3 144.0 142.1 135.0 139.0 M155.6 137.4 159.5 129.6 163.9 138.3 159.2 134.2 160.4 138.1 156.2 139.6 150.4 145.9 145.1 138.0 147.8 141.3 147.0 134.8 154.5 138.6 157.5 127.7 153.1 117.4 144.1 122.5 136.0 118.6 128.3 114.2 120.7 105.0 119.7 97.9 128.4 103.0 122.1 98.3 119.5 90.7 124.8 87.9 121.8 96.8 127.3 106.6 116.9 110.6 114.1 105.8 118.0 95.2 123.2 101.2 128.8 93.3 127.9 98.6 127.0 104.2 M148.5 145.3 154.8 135.3 151.0 144.9 156.1 150.7 158.9 145.5 152.6 138.7 161.7 136.3 156.4 137.1 146.8 138.8 145.8 145.5 137.0 144.4 142.9 140.6 150.5 133.5 141.5 135.6 139.6 125.2 138.5 119.6 150.2 118.2 151.9 111.8 156.1 106.5 148.2 109.5 144.0 109.9 153.6 113.9 148.3 122.8 153.2 129.3 141.6 129.9 143.1 138.0 141.9 128.9 146.6 121.9 138.7 129.2 141.5 139.6 133.0 138.3 M140.5 98.6 152.1 100.6 143.6 106.7 134.1 107.3 127.0 105.5 132.5 102.7 137.7 108.0 144.0 103.4 147.3 111.8 154.3 119.2 156.3 124.7 153.3 130.8 161.1 136.9 155.1 136.5 147.7 135.0 140.7 139.3 130.1 137.3 133.7 132.7 137.9 122.3 133.3 132.7 144.4 132.6 145.1 142.4 146.3 137.6 144.7 133.8 140.1 123.5 146.1 128.8 136.6 128.6 141.0 130.7 133.3 128.1 136.6 132.5 143.0 122.4 M146.6 96.1 144.6 91.9 138.9 96.6 140.6 103.4 146.1 104.8 141.6 110.2 137.9 107.3 135.8 111.5 143.8 103.5 138.8 101.2 133.3 109.7 140.7 116.3 145.3 114.3 138.6 112.6 141.0 117.7 142.8 111.6 151.9 103.9 157.8 105.8 156.1 111.2 158.0 115.4 152.3 115.5 145.5 120.8 150.1 124.5 140.0 124.2 146.0 124.6 141.5 131.6 130.9 130.2 125.2 120.1 131.7 117.4 136.9 110.8 129.7 114.2 M134.6 127.4 132.5 136.4 138.5 136.9 144.0 145.3 152.0 139.3 158.2 135.1 159.5 139.3 153.6 141.0 144.7 146.0 146.6 137.2 145.3 146.6 137.7 141.6 147.2 136.1 152.9 138.4 149.5 135.0 153.7 137.0 145.1 134.2 139.5 135.0 139.1 124.3 146.8 131.4 147.4 125.8 146.9 136.2 140.1 126.4 130.6 123.4 124.4 126.5 127.7 123.2 120.4 120.1 117.3 129.9 119.5 138.9 118.4 132.1 116.2 123.8 M146.4 114.8 144.2 121.0 154.5 116.5 150.0 121.8 144.4 126.1 134.8 122.1 139.2 114.8 139.8 103.8 147.9 104.9 137.2 100.1 138.7 95.8 139.8 91.3 138.9 80.1 135.5 76.3 130.2 80.4 121.2 86.1 130.1 78.6 123.6 82.0 126.4 86.9 123.3 98.3 121.6 102.9 122.5 97.5 127.2 98.6 128.4 104.4 123.6 101.1 122.6 106.4 128.3 102.9 135.9 100.8 146.9 104.4 140.8 109.8 138.9 121.6 M141.9 110.9 148.2 106.6 138.5 111.8 139.2 106.7 141.1 102.0 135.1 96.5 130.2 94.1 134.7 91.5 129.4 98.7 136.8 92.6 136.7 84.2 142.1 84.9 149.3 86.6 142.2 91.3 140.0 87.3 145.9 94.6 145.7 84.3 135.4 88.0 129.2 89.0 127.0 77.9 131.7 80.8 136.7 84.9 127.8 86.6 124.2 89.9 130.3 96.5 131.8 100.6 130.5 96.0 137.9 95.4 132.1 104.2 135.8 108.6 132.9 101.2 M134.7 86.6 130.5 96.0 138.7 95.3 141.1 101.2 135.8 99.3 134.5 103.9 134.3 112.2 135.2 121.1 130.2 118.5 139.9 118.4 136.0 116.7 136.9 111.7 131.1 115.0 135.4 110.6 126.0 113.5 118.4 110.0 123.0 107.3 128.3 103.2 132.0 101.6 125.4 109.2 129.8 116.8 122.9 118.8 133.7 113.7 134.2 103.0 127.3 96.9 131.3 103.0 126.4 102.2 123.8 106.5 127.8 104.7 126.0 94.5 121.2 94.6 M133.8 128.5 144.5 128.1 138.2 132.2 145.0 127.6 134.7 132.2 144.0 135.5 143.0 126.8 140.0 135.0 145.4 140.4 141.9 143.0 136.0 142.1 131.4 145.6 141.3 139.4 146.3 134.0 148.0 143.8 152.0 141.0 157.9 141.1 160.8 134.5 157.0 132.3 152.3 138.4 161.0 130.2 157.3 126.1 153.0 136.5 151.8 131.5 158.8 128.6 160.6 133.8 155.3 124.9 149.5 115.5 150.3 121.8 147.2 116.4 157.2 122.8 M141.5 94.0 136.4 90.4 138.0 85.9 138.2 80.0 133.0 78.3 127.5 78.3 132.0 86.0 122.5 89.7 124.0 84.0 125.6 92.5 134.2 94.4 124.3 89.6 126.7 93.0 119.8 96.0 121.2 91.6 121.6 96.8 127.8 98.5 121.8 97.5 130.8 103.1 130.6 108.4 135.6 99.4 129.8 103.0 134.0 102.2 134.9 90.4 125.3 93.1 126.0 104.2 121.0 108.2 124.8 110.2 125.6 100.4 125.4 108.8 119.3 118.9 M120.2 91.6 130.1 91.3 134.9 101.0 136.5 107.9 131.3 110.8 133.9 103.4 125.5 97.8 116.5 98.3 122.4 100.2 123.4 104.9 122.0 94.8 122.6 105.5 133.3 105.3 137.6 99.8 144.4 93.3 138.3 88.3 133.3 87.9 126.6 92.1 118.3 91.2 122.5 84.0 127.8 90.2 133.4 94.4 140.2 102.7 136.2 103.1 135.7 93.9 140.9 87.1 148.2 94.2 154.0 99.6 159.7 97.0 161.7 108.2 162.5 101.4 M150.1 145.3 145.5 147.8 143.0 139.7 150.0 140.8 156.7 143.6 148.0 143.8 145.3 149.2 146.5 140.2 140.3 144.1 145.6 134.4 149.2 132.1 142.7 131.8 147.9 131.1 149.1 140.4 157.5 140.5 148.9 137.8 154.6 127.5 148.3 136.7 146.3 127.3 156.6 124.9 150.9 119.4 146.6 124.0 140.8 122.8 138.4 127.6 141.5 130.8 149.2 136.6 139.5 139.6 145.2 141.6 147.3 134.8 147.2 144.5 151.2 137.0 M144.6 99.8 146.2 95.1 143.4 90.0 152.0 90.7 157.0 89.8 149.1 94.2 160.0 89.3 158.8 84.5 156.6 94.1 161.5 98.7 153.9 96.6 150.1 106.3 148.6 113.3 149.7 101.5 146.9 93.6 150.1 97.9 155.6 95.5 160.4 100.0 155.7 97.9 154.8 103.7 150.8 108.2 161.0 112.6 153.7 113.3 150.2 116.0 145.2 108.6 155.4 104.5 145.4 108.2 147.3 112.0 150.6 115.1 150.8 108.6 156.4 109.0 M130.8 85.3 131.1 96.7 128.2 104.4 131.5 94.8 120.8 96.0 128.1 90.6 132.2 95.7 126.0 95.5 120.7 90.1 129.1 93.8 128.6 99.5 133.5 101.0 135.3 107.5 131.5 111.4 127.9 114.0 138.1 110.7 143.5 111.4 136.2 106.9 124.8 108.8 126.9 97.9 133.4 100.9 140.9 94.0 150.7 94.6 154.5 92.2 150.3 98.5 139.8 103.9 147.0 110.7 139.9 113.7 132.9 113.7 143.8 116.7 137.8 118.6 M142.9 92.2 131.2 94.5 127.4 103.6 118.5 109.9 126.4 109.4 131.3 101.7 136.3 92.6 140.8 92.4 139.4 86.5 131.4 88.9 133.5 94.8 141.0 98.6 135.1 98.9 141.4 90.9 150.0 85.1 146.8 88.7 140.6 97.7 144.6 101.3 149.8 94.1 160.5 99.3 153.0 91.3 156.0 100.1 162.7 100.8 158.4 96.2 156.6 91.1 153.9 83.8 162.5 91.5 159.0 95.9 155.5 86.6 152.8 93.4 146.4 97.5 M145.3 96.7 146.2 105.3 150.5 100.8 147.1 93.9 139.6 100.4 135.3 101.8 133.8 109.2 131.3 118.4 131.5 125.7 136.3 122.0 130.5 130.9 123.5 126.4 127.2 123.5 136.2 124.9 131.2 130.8 127.0 123.0 138.8 121.2 143.2 113.1 147.7 113.1 140.2 118.4 145.8 118.1 150.3 123.7 154.9 126.3 147.8 119.4 151.5 110.3 157.2 115.6 152.4 114.5 149.8 122.2 145.2 120.1 138.9 119.6 139.0 126.9 M143.6 108.2 147.6 111.3 150.6 103.8 145.6 101.7 155.1 99.5 157.6 94.2 155.2 102.8 143.9 103.3 144.7 93.1 142.9 98.6 138.9 92.4 142.3 103.9 150.0 112.9 157.4 118.1 152.7 114.7 154.5 107.9 152.1 112.1 146.8 111.1 142.2 120.6 141.2 116.4 149.0 114.0 148.3 107.0 155.8 112.8 156.0 124.5 159.1 119.7 164.2 121.6 164.6 114.9 160.0 118.4 165.0 119.4 163.7 125.5 156.5 126.0 M155.9 100.6 152.4 98.7 144.2 103.3 148.1 101.0 138.8 104.7 131.7 107.1 127.5 116.0 135.5 123.1 130.8 121.7 126.5 132.5 131.5 129.8 121.1 127.4 126.6 121.9 133.7 118.4 125.9 125.0 125.7 119.7 127.7 126.1 134.2 125.3 134.9 131.4 129.5 128.7 132.7 122.4 124.5 126.1 135.7 124.3 129.8 124.8 135.0 128.7 144.3 130.8 138.0 128.7 147.7 125.6 156.1 131.5 148.4 140.3 147.9 146.2 M123.7 112.3 118.0 110.0 128.2 111.9 132.3 117.7 127.4 116.3 129.1 111.3 126.5 102.9 124.0 109.9 119.1 103.1 116.5 96.9 120.0 93.8 118.7 97.6 124.1 96.3 120.9 100.4 118.3 96.0 125.3 104.7 136.5 102.9 127.8 106.6 124.8 98.2 128.3 94.9 131.6 103.9 142.1 99.7 146.9 96.2 146.2 101.3 149.8 97.6 158.4 97.4 156.2 102.3 162.5 111.7 160.6 117.8 156.1 120.5 147.6 113.9 M138.0 95.1 132.4 98.7 142.5 99.7 135.5 95.5 132.0 88.7 136.0 85.0 135.8 92.9 132.9 98.0 132.4 106.1 136.3 102.3 134.2 108.6 129.4 99.4 138.3 104.2 139.8 111.4 135.1 116.4 142.2 115.9 144.7 106.0 146.5 99.2 138.2 93.7 139.9 90.0 136.6 93.0 140.1 97.5 151.2 94.7 155.9 92.5 161.1 90.6 156.9 98.1 148.4 91.6 152.6 102.4 162.5 103.9 162.1 98.3 164.0 108.5 M137.5 93.2 143.9 93.8 143.3 102.7 134.4 104.2 127.5 112.9 120.3 117.1 130.3 112.8 134.5 119.7 133.2 124.9 134.0 133.6 139.9 131.5 137.3 125.3 126.0 125.5 123.1 128.2 121.6 135.6 123.5 130.0 125.2 124.3 132.7 121.6 130.0 132.0 126.9 136.7 132.2 127.7 140.4 123.0 137.9 112.8 142.6 122.2 143.1 133.5 136.3 133.0 127.7 125.8 124.9 122.3 134.0 129.8 132.0 134.9 132.6 123.0 M143.7 99.7 137.1 102.5 137.1 98.5 125.7 98.9 124.7 94.7 121.0 91.4 127.1 92.4 132.4 96.4 140.5 97.8 138.0 105.1 142.4 108.7 146.8 110.7 156.4 113.8 153.6 124.9 147.1 127.8 153.2 126.2 158.3 119.7 150.5 124.3 144.2 120.5 148.9 123.3 144.8 119.7 146.8 111.2 145.6 121.6 149.8 123.2 155.1 121.5 162.0 116.8 153.3 118.7 153.7 129.2 158.4 123.7 152.9 121.4 147.2 125.5 M156.6 135.2 154.5 138.8 152.9 130.3 156.7 126.3 161.8 129.7 158.9 124.8 155.5 121.6 149.6 115.6 146.1 108.4 156.1 103.7 156.9 109.4 147.2 102.5 148.7 108.7 156.1 113.2 149.6 110.4 145.4 116.6 137.5 124.0 147.1 121.3 142.7 121.3 140.0 117.6 138.5 111.1 132.5 111.9 128.1 114.8 128.2 106.1 124.1 105.9 117.6 115.6 126.8 110.8 124.6 106.5 116.4 108.4 122.7 109.3 126.5 110.6 M150.7 103.8 146.2 108.1 142.1 107.1 139.2 102.8 147.2 94.5 149.4 99.0 152.1 89.4 142.6 90.1 139.6 97.0 131.6 93.2 132.6 99.0 139.4 108.4 132.5 111.2 140.6 106.4 134.7 114.0 142.8 106.6 139.0 111.0 148.1 113.8 152.7 106.8 156.3 109.3 160.7 111.1 158.9 106.0 154.2 97.7 148.0 99.0 143.7 104.4 142.1 110.3 138.9 118.4 147.1 125.4 140.6 124.9 140.8 115.9 138.0 108.5 M135.4 126.3 138.9 116.1 136.9 122.9 144.3 124.8 136.6 133.2 143.4 137.5 135.3 133.1 136.9 137.7 143.1 139.2 151.0 136.9 157.9 129.2 158.0 121.6 157.8 115.6 153.1 112.0 158.0 122.0 163.4 121.2 165.0 115.7 159.6 123.8 161.9 115.1 159.8 119.5 155.4 109.5 162.1 103.1 157.7 97.3 159.2 101.7 156.8 95.1 154.3 90.8 152.6 94.5 148.3 91.8 153.4 96.5 146.8 93.9 141.3 87.0 M131.5 85.8 126.1 83.4 131.5 84.6 132.1 74.8 128.7 78.0 133.5 79.1 135.2 83.7 131.8 79.6 125.0 78.0 127.3 84.3 134.0 78.7 122.8 75.7 115.7 82.1 114.3 88.3 117.1 94.9 117.6 90.0 122.5 82.2 127.0 87.9 133.9 95.4 129.6 90.9 125.3 87.4 132.7 78.1 126.4 85.3 129.6 80.7 127.5 84.1 134.1 84.2 143.2 83.7 137.4 86.8 133.6 96.0 131.6 91.2 137.1 90.1 M125.7 103.4 130.4 96.5 127.2 90.4 119.4 98.8 116.7 93.4 125.3 96.6 132.3 101.8 135.9 107.5 132.6 97.1 126.2 103.7 118.0 107.8 125.9 110.6 120.0 112.7 121.8 120.0 120.9 128.3 120.3 123.8 115.8 113.3 118.7 109.6 125.9 107.4 130.6 110.8 126.8 105.5 135.2 100.4 137.7 104.8 146.0 112.0 141.2 109.9 146.1 120.7 155.3 123.6 151.7 129.9 152.6 119.3 156.1 126.5 147.2 131.5 M149.9 129.9 145.1 125.5 153.6 119.6 148.5 119.5 158.9 116.1 152.7 114.0 152.3 103.9 143.9 108.5 139.1 109.7 144.2 119.0 139.9 113.5 145.2 124.0 151.9 131.0 144.2 124.4 152.6 116.1 148.4 110.5 142.3 117.4 135.8 126.0 131.0 116.4 127.3 111.7 135.7 117.8 133.4 124.5 139.1 131.6 144.3 134.6 146.0 145.5 140.4 146.4 137.9 151.3 145.5 152.1 151.3 145.7 153.0 141.3 148.2 135.1 M119.2 99.5 121.3 95.3 126.4 96.9 123.6 103.8 132.0 103.9 135.4 100.9 136.4 92.2 129.5 96.4 123.6 97.9 127.6 101.0 119.1 99.3 129.7 98.4 135.5 107.3 139.9 116.4 145.1 114.2 148.1 119.2 154.7 115.0 151.1 119.8 149.2 109.7 141.7 111.8 132.6 114.4 128.7 122.0 135.5 124.0 140.0 124.9 150.0 121.2 147.2 127.5 152.9 134.1 148.9 137.8 159.0 138.7 157.3 128.6 156.8 122.2 M141.1 122.1 152.3 119.9 150.3 126.3 159.3 132.4 157.3 136.7 158.9 132.7 152.7 136.5 145.3 139.6 143.2 145.3 150.6 141.6 146.4 142.7 147.7 138.2 157.8 138.7 157.3 134.5 152.2 133.3 143.5 139.5 149.3 143.5 150.5 138.5 138.6 137.3 143.9 128.1 133.6 124.1 136.3 127.1 141.2 123.4 141.5 118.6 144.7 111.8 150.2 107.5 152.2 95.9 141.1 98.7 139.6 94.3 139.7 99.6 134.0 104.9 M144.3 99.7 149.4 103.9 142.0 105.2 152.7 101.0 155.5 95.9 146.6 98.2 139.6 107.8 144.3 108.4 143.0 97.7 143.5 103.7 148.4 100.0 159.9 97.6 150.1 99.3 143.9 98.9 140.5 93.3 147.6 102.7 149.3 114.2 158.9 109.4 162.6 101.7 161.4 91.1 150.2 91.9 141.4 95.0 138.9 88.5 149.1 93.1 151.6 85.8 142.6 88.7 145.8 91.2 146.0 97.0 137.7 101.9 135.8 98.1 128.2 91.9 M138.1 122.6 131.2 132.3 126.9 131.0 130.3 124.1 123.2 118.8 126.8 112.9 122.8 107.7 117.3 108.2 121.1 106.0 127.9 110.4 136.5 113.0 130.8 110.0 123.6 108.9 121.4 102.4 130.5 95.2 134.4 83.9 131.8 90.4 131.9 95.2 123.1 93.3 129.0 98.0 124.1 102.4 131.1 105.1 130.8 100.9 134.4 107.6 141.2 98.0 143.7 107.6 149.3 103.7 152.2 96.4 150.0 91.0 140.9 85.6 139.8 94.7 M151.7 135.1 149.9 125.7 151.1 117.1 145.0 116.1 150.2 111.7 146.5 115.8 156.2 113.6 152.4 111.2 160.9 113.9 161.8 119.0 154.5 119.3 149.8 118.3 141.3 111.3 139.5 105.7 144.4 97.2 150.9 107.0 158.3 103.1 150.7 111.4 149.4 115.5 146.6 119.3 148.8 126.4 146.2 122.4 153.2 125.0 152.4 135.6 144.3 142.0 136.5 139.2 145.5 136.2 148.0 143.6 143.5 142.1 139.7 144.3 149.6 140.0 M135.0 126.2 142.0 129.2 147.9 129.0 141.8 137.9 131.7 143.7 141.7 137.0 135.1 133.1 126.2 131.9 133.3 125.9 136.3 133.3 139.5 127.6 132.3 130.1 136.4 134.8 142.6 133.5 143.9 122.5 132.6 118.7 124.5 114.9 124.8 107.0 130.9 110.6 134.2 99.5 126.5 92.2 125.6 87.2 122.8 83.2 126.9 85.3 122.9 84.1 131.1 89.8 135.9 91.9 129.9 100.8 124.3 101.9 133.2 107.8 129.1 102.4 M139.6 105.9 139.5 99.7 137.0 109.4 143.5 102.5 136.9 112.1 136.5 121.3 139.7 124.1 140.0 128.9 146.3 136.7 152.3 126.5 160.5 123.0 157.4 129.3 156.3 123.6 151.3 129.1 143.5 126.7 134.6 123.7 129.0 121.7 126.7 130.0 131.7 133.0 133.3 138.3 128.0 137.5 120.7 132.2 118.6 126.9 117.5 121.5 125.4 120.6 120.3 115.8 129.0 116.7 121.3 109.9 120.9 101.1 128.8 106.1 118.2 111.3 M143.4 103.6 142.1 107.6 144.2 102.6 145.3 108.8 137.3 111.3 141.1 108.8 151.8 106.9 149.5 116.9 160.0 115.8 153.2 112.8 162.6 112.1 153.9 111.3 154.5 118.0 149.1 120.0 142.6 129.0 136.7 122.1 140.7 130.1 138.9 123.5 146.8 122.8 139.8 117.2 147.0 117.1 154.0 126.0 154.5 131.2 151.4 135.1 154.1 124.1 142.8 126.9 139.9 120.4 143.8 112.3 144.1 117.1 137.8 112.6 136.4 105.4 M128.2 109.5 130.3 103.7 135.3 106.9 125.8 106.6 122.5 98.5 129.2 98.3 121.4 100.6 129.3 105.2 133.9 106.3 135.9 112.0 131.0 113.7 140.0 113.4 130.7 111.1 132.0 105.3 136.0 108.4 139.4 116.1 146.4 113.5 153.5 110.9 146.4 111.3 140.2 101.8 136.8 109.2 128.9 115.7 120.9 116.6 120.2 110.6 120.3 119.4 116.9 115.8 119.9 118.8 126.6 117.3 125.7 108.0 126.2 103.5 128.0 93.5 M144.0 142.6 147.3 150.1 148.0 143.8 140.7 144.1 133.8 140.4 137.1 134.3 146.6 139.7 153.4 135.1 157.8 141.2 153.2 141.0 156.6 138.6 153.0 131.3 154.6 137.2 157.0 130.2 160.4 121.6 157.5 117.3 152.2 124.8 143.7 116.8 152.0 111.1 147.1 119.7 154.0 116.5 147.3 112.4 155.1 115.9 145.2 114.6 149.8 109.4 156.6 109.2 162.1 103.3 157.1 99.7 157.3 104.0 148.6 108.9 141.6 114.8 M151.8 127.1 147.1 131.8 157.1 131.2 161.2 133.8 157.2 138.2 154.6 148.2 148.9 153.2 138.6 154.0 137.9 149.6 143.9 147.0 140.6 152.8 140.1 143.5 144.2 135.4 148.5 126.7 142.0 120.4 142.8 127.7 136.2 134.5 144.4 129.9 136.2 130.7 140.2 137.0 137.8 131.0 136.2 127.1 145.1 124.9 151.9 118.0 155.4 112.9 159.4 117.6 167.7 117.5 158.3 113.1 155.7 118.4 155.8 111.7 149.4 118.8 M122.5 117.9 118.7 112.4 120.7 120.1 116.4 119.3 115.2 114.1 124.1 113.8 125.6 102.2 117.7 108.3 116.5 97.5 124.5 93.7 117.3 93.2 120.6 102.9 129.3 105.1 126.1 100.7 129.5 108.0 132.6 113.3 134.7 117.1 131.7 111.9 124.9 115.4 120.3 109.2 119.9 102.7 118.8 92.8 126.2 99.5 128.9 90.9 135.0 94.0 138.3 96.8 143.8 89.6 153.1 94.8 158.4 95.2 162.6 94.0 155.2 95.8 M134.6 120.9 133.1 132.0 130.7 135.5 122.1 127.5 120.5 117.6 116.8 111.1 110.6 109.0 112.9 99.2 113.9 94.8 115.1 98.8 119.1 100.1 112.5 95.0 113.4 100.2 111.9 108.9 111.8 103.3 121.9 97.0 118.0 101.8 121.8 105.7 124.6 98.0 122.7 101.9 127.1 97.3 134.1 96.5 122.9 99.9 113.8 101.4 119.7 98.1 123.7 100.3 126.5 89.1 121.9 88.2 117.0 86.0 123.5 89.7 127.7 88.4 M120.1 99.5 121.2 104.5 110.4 100.4 118.2 105.0 124.2 112.8 121.3 119.3 117.1 116.4 121.3 115.4 117.7 111.2 111.8 105.0 115.0 113.2 119.3 117.9 129.5 116.2 122.0 113.2 128.7 110.7 128.6 117.0 125.4 112.9 117.8 115.3 119.1 104.6 128.0 104.9 127.1 97.2 134.8 97.1 132.1 101.2 139.3 108.8 133.7 111.6 123.4 113.0 118.5 112.3 125.1 104.2 118.5 106.0 118.8 110.5 120.1 117.3 M149.2 118.6 141.7 124.3 149.0 130.5 156.5 135.3 150.4 130.1 161.3 129.4 159.8 120.8 157.5 129.4 155.8 135.6 158.8 124.2 151.9 117.2 150.9 111.0 153.7 116.4 151.4 121.0 147.3 111.4 135.5 110.3 125.2 108.1 132.4 100.8 128.0 107.4 132.3 109.1 137.3 107.6 127.3 110.2 124.9 106.5 116.5 101.4 122.0 104.9 119.3 109.6 123.7 107.2 128.6 112.8 123.2 110.7 120.7 113.9 125.0 118.3 M152.1 92.7 159.4 96.5 153.5 96.4 157.6 97.5 148.5 98.5 149.5 104.1 153.2 97.5 152.2 91.9 156.3 92.6 152.1 96.5 147.7 87.4 151.3 85.4 159.9 85.8 164.7 95.8 161.7 101.6 159.6 107.8 163.7 110.7 164.3 106.1 155.5 101.3 151.5 104.0 155.4 112.2 159.4 113.2 156.8 107.3 156.7 99.3 164.8 94.1 160.3 90.2 150.5 96.7 139.9 96.5 136.9 88.9 136.0 100.8 131.3 97.9 M144.5 122.4 152.4 119.0 147.6 124.1 153.3 113.6 151.3 118.4 149.5 124.3 139.0 119.1 144.5 124.3 144.8 117.7 139.6 117.8 133.7 110.3 128.6 107.7 125.4 114.2 124.7 109.8 129.1 107.1 132.5 104.3 129.6 108.0 136.1 104.1 130.7 113.0 130.8 119.1 128.9 111.7 130.6 107.3 119.7 106.9 130.4 110.6 130.6 120.4 131.3 125.7 131.1 116.5 142.3 115.0 131.1 111.1 140.2 117.8 133.9 119.0 M143.6 113.1 136.8 118.6 143.9 110.0 152.0 113.4 148.1 118.1 155.4 122.0 150.8 111.6 154.9 107.4 158.9 106.6 149.8 103.1 155.7 109.0 155.6 119.7 159.6 114.4 155.0 111.2 155.5 106.9 159.1 96.9 155.0 95.9 156.4 104.9 152.5 103.6 152.2 96.0 159.6 100.2 157.2 96.7 164.7 95.9 162.5 103.4 168.3 98.6 164.7 94.2 155.2 91.1 162.6 94.9 162.7 100.4 156.9 108.3 148.7 116.6 M134.5 108.6 141.9 109.6 137.6 111.6 141.1 100.8 134.5 94.8 140.5 97.1 147.1 99.8 153.9 94.8 156.5 88.6 160.3 90.3 156.0 96.7 152.4 93.3 144.1 97.2 137.5 90.6 131.1 92.1 126.7 92.8 122.9 94.4 128.8 87.9 118.1 91.0 127.0 85.0 132.9 75.9 131.0 83.3 126.7 83.5 121.3 87.5 129.5 80.6 123.5 80.5 125.9 88.4 132.8 95.5 127.0 88.2 132.8 94.8 130.7 87.8 M130.9 80.5 135.0 79.8 131.2 87.5 124.3 94.8 123.0 106.1 130.4 109.9 136.8 101.5 130.5 101.1 120.5 104.8 130.8 103.6 124.7 99.7 127.4 95.0 124.3 88.8 122.0 84.6 120.3 93.7 118.5 99.4 128.9 103.9 135.0 110.5 138.8 118.5 130.9 116.6 132.6 107.0 136.2 100.1 139.8 103.2 137.3 97.8 135.3 105.5 140.5 104.6 135.9 99.4 143.6 107.8 138.3 104.9 145.9 110.8 139.4 109.5 M128.6 132.8 133.1 126.2 134.3 132.9 133.3 122.2 144.3 123.1 141.3 127.1 144.4 131.1 137.5 121.9 142.7 111.9 138.2 104.6 149.3 108.9 152.5 120.2 141.2 121.4 145.1 119.9 138.6 115.9 132.7 121.5 134.0 125.6 133.1 130.7 129.7 121.5 125.9 122.8 126.3 131.2 137.1 126.9 132.8 129.1 135.4 138.7 134.9 143.6 134.7 137.0 135.0 125.6 127.5 126.8 122.4 127.8 118.9 125.0 123.3 123.7 M157.2 121.2 149.7 117.7 145.7 128.1 142.5 120.1 131.8 115.7 128.7 121.3 129.9 112.2 126.8 101.6 135.6 102.7 127.9 100.2 117.6 95.6 118.6 87.6 125.9 91.1 115.4 92.3 121.7 86.8 120.8 94.3 126.9 97.5 124.5 93.5 121.9 99.1 119.4 108.5 123.2 106.5 130.3 100.1 126.0 94.7 124.7 102.9 128.1 97.9 118.1 93.4 125.6 84.9 122.7 87.7 122.8 82.8 127.1 80.6 128.6 75.6 M130.0 131.5 134.1 141.6 141.3 142.2 150.5 136.0 144.6 127.8 149.0 131.8 154.0 136.7 149.6 139.5 143.6 147.9 148.6 138.6 141.4 136.4 147.1 132.9 145.1 128.2 137.5 129.8 143.7 138.5 143.5 128.6 137.4 126.6 128.1 131.0 124.7 134.1 125.6 138.2 130.3 137.7 127.8 141.0 123.6 132.2 128.7 129.1 135.1 124.9 128.5 123.5 137.5 129.4 135.6 121.8 144.6 124.4 136.3 129.8 126.1 129.7 M122.0 99.4 121.5 92.8 125.8 85.4 127.6 73.8 122.5 75.7 130.0 76.8 126.9 79.8 122.7 83.8 125.0 80.4 125.8 90.9 132.7 83.6 132.2 91.6 142.7 95.3 153.1 96.7 147.5 95.9 154.4 102.2 145.6 95.8 150.6 103.5 141.0 103.0 131.8 101.5 135.1 92.5 128.5 89.8 121.7 89.4 129.8 83.6 135.7 86.9 132.3 89.5 126.8 85.7 135.9 88.1 127.6 91.7 137.5 95.0 137.7 103.4 M140.5 103.5 138.0 97.1 128.0 100.2 138.2 102.8 132.9 102.2 133.9 111.0 139.9 105.7 144.5 106.8 147.3 112.5 151.4 106.9 152.6 101.6 146.7 99.0 138.7 98.9 148.9 96.4 150.6 91.1 154.7 84.9 153.7 95.2 144.9 91.5 147.4 100.6 147.7 110.8 143.5 113.3 146.6 119.5 139.1 122.2 138.7 127.0 141.8 131.5 141.2 122.3 138.8 128.0 134.2 125.8 129.8 121.4 132.0 125.6 137.1 119.2 M145.1 123.0 150.4 124.0 151.5 119.8 162.6 119.5 153.3 123.7 147.1 129.1 142.8 120.3 152.7 126.1 149.4 137.0 151.9 143.8 153.1 136.1 141.7 136.5 139.6 132.8 144.0 137.5 153.2 137.6 156.5 131.6 161.5 137.2 157.4 136.6 162.9 135.3 161.7 131.0 157.3 120.2 157.1 124.6 151.8 129.9 156.9 127.4 145.5 127.0 146.6 136.8 152.6 135.5 146.1 139.2 138.7 140.4 144.2 140.6 137.0 134.6 M148.0 113.7 152.1 114.2 146.2 104.2 141.6 96.0 146.9 92.3 155.3 95.4 153.8 88.7 158.3 88.7 159.4 92.7 155.0 97.9 158.2 106.9 150.4 108.8 151.6 103.2 152.5 94.2 153.1 103.5 156.6 99.8 154.9 94.7 153.8 102.2 159.1 100.5 160.9 110.0 156.2 115.5 156.5 110.0 151.0 101.9 147.1 105.6 142.1 114.6 142.4 109.3 145.4 103.2 146.8 108.7 148.3 104.8 141.2 102.0 147.0 93.0 M129.5 100.5 132.9 105.3 131.3 113.5 130.7 118.3 137.1 114.3 145.1 123.0 146.1 118.8 138.5 119.5 129.8 115.3 128.1 121.3 123.9 123.7 128.0 125.3 136.5 123.4 130.4 118.3 132.4 112.5 138.1 114.2 128.4 115.5 127.7 122.3 124.8 129.8 130.7 125.1 133.6 121.1 143.3 125.1 148.2 122.6 145.5 114.7 148.1 107.4 154.3 104.3 144.2 109.1 138.6 113.1 133.8 105.1 124.5 103.9 126.8 98.5 M136.6 141.8 138.4 147.0 148.1 142.7 150.1 132.0 142.6 137.5 150.9 134.2 148.3 127.8 137.4 126.8 131.8 125.4 132.3 131.8 138.1 129.6 137.4 118.1 135.2 125.1 142.2 129.8 143.3 140.1 134.8 136.5 145.1 130.9 144.9 126.7 144.7 131.8 145.8 142.2 137.4 142.1 133.5 139.6 130.0 134.2 118.6 134.3 125.1 128.9 118.0 134.8 125.3 135.9 127.4 143.0 135.0 140.1 126.6 137.5 129.4 130.4 M146.7 133.2 143.3 121.8 149.4 123.5 143.7 114.0 139.4 106.8 129.5 103.8 120.6 105.5 119.6 95.8 128.5 93.9 121.1 95.1 115.6 103.9 121.1 94.9 121.2 98.9 128.2 103.0 118.2 104.7 123.1 99.7 122.6 104.8 126.3 108.4 124.7 96.7 125.3 108.4 128.8 96.9 129.0 108.8 140.7 109.0 141.6 116.7 142.7 109.6 147.8 105.4 146.3 100.6 141.6 102.3 140.0 98.1 133.6 89.8 136.7 95.5 M156.6 127.7 154.3 139.3 158.2 149.4 155.1 152.2 153.2 146.8 157.8 143.7 160.9 140.4 154.6 141.0 150.3 141.1 148.8 147.9 147.0 140.8 138.8 135.6 129.9 132.0 139.4 136.9 149.0 139.4 156.0 137.0 149.0 139.5 155.1 134.9 147.3 131.8 146.1 137.7 151.8 138.6 155.5 130.0 149.4 122.5 152.9 128.6 162.6 123.0 156.6 131.4 150.7 135.7 159.8 135.5 158.7 129.8 151.9 124.6 148.4 126.7 M226.3 135.5 215.5 136.7 220.2 131.4 210.4 121.7 206.7 127.5 209.7 136.7 204.6 125.6 215.4 119.6 217.7 133.3 207.5 137.1 194.9 133.9 207.7 131.9 202.0 131.7 197.5 123.6 187.1 120.9 191.4 132.2 203.3 127.6 200.6 134.3 193.6 141.7 198.7 142.7 205.3 144.6 205.5 137.6 204.1 146.4 194.9 139.5 189.4 145.4 185.3 133.4 194.4 132.8 199.4 143.6 201.5 137.3 194.3 137.3 187.9 144.9 M207.9 124.7 206.8 130.6 197.4 130.5 193.8 122.2 183.7 125.6 178.5 124.9 188.4 126.6 192.8 131.8 202.3 135.5 209.0 132.6 203.7 135.1 198.2 128.6 195.8 122.7 201.3 124.0 205.4 136.7 203.8 130.2 206.8 119.4 201.5 115.0 197.1 105.8 193.5 110.3 189.1 99.7 193.8 109.7 187.7 112.3 181.0 105.8 186.8 109.8 184.0 119.0 190.6 114.4 191.8 105.9 194.3 96.5 200.0 98.4 195.5 109.4 M220.9 137.6 225.4 145.8 220.4 141.8 231.1 144.1 242.6 139.5 245.6 127.4 244.1 140.3 237.4 130.7 242.4 124.6 242.3 111.9 235.5 112.0 241.6 112.2 234.0 112.9 246.4 115.1 233.4 111.0 245.3 116.8 246.3 125.5 253.3 114.1 249.4 104.8 243.8 114.0 240.9 118.8 235.4 106.0 242.1 112.5 241.0 119.2 233.5 122.3 229.3 131.8 238.3 123.4 245.7 126.6 234.2 121.7 227.2 124.4 233.3 124.1 M190.2 137.5 194.2 145.2 201.3 142.2 196.6 135.1 193.2 130.5 199.0 134.9 210.0 134.1 203.1 137.0 203.8 143.7 197.1 135.9 205.9 133.6 198.7 139.3 196.2 127.9 190.7 118.9 185.9 125.0 195.2 117.3 208.1 114.6 212.6 107.1 212.1 115.8 217.9 117.7 221.2 122.8 214.4 129.3 220.1 126.7 228.6 116.5 220.4 115.1 230.4 108.7 232.3 101.6 237.3 98.3 242.3 109.8 236.8 102.8 228.5 103.1 M202.5 105.9 203.0 97.3 194.2 97.1 191.3 101.9 190.0 109.6 188.2 119.1 197.9 124.5 194.8 137.8 204.0 145.9 210.3 146.7 202.7 148.9 203.3 142.0 210.7 138.6 204.4 133.2 211.9 135.1 204.7 128.2 197.5 121.1 204.5 109.9 208.9 106.0 216.9 105.4 223.6 107.3 218.0 116.4 213.6 126.7 220.3 118.6 215.7 110.3 219.2 116.2 210.9 114.4 215.7 126.8 211.7 117.9 217.7 117.3 219.4 124.4 M207.0 135.7 198.1 134.8 191.8 126.0 185.5 124.3 188.6 129.2 196.8 140.3 202.1 136.9 195.2 134.7 194.9 140.4 190.6 132.6 193.6 127.3 205.8 132.3 205.1 126.1 207.5 134.7 212.8 126.4 216.2 133.3 220.7 130.6 226.9 129.0 225.6 142.0 224.5 136.0 229.5 145.1 236.0 138.9 241.9 138.8 237.6 126.6 238.7 117.4 243.1 120.0 236.7 110.7 241.6 106.6 238.7 113.7 232.6 118.5 235.4 124.1 M217.1 109.3 211.3 114.7 218.4 118.4 214.8 124.5 208.9 128.0 219.4 126.8 224.2 120.9 227.2 110.5 235.5 111.6 231.1 116.5 240.4 124.9 228.7 120.3 220.7 112.1 230.1 119.0 230.5 105.8 239.5 109.2 237.4 113.8 227.3 110.8 224.4 116.2 227.7 111.3 217.1 113.2 220.4 106.2 211.6 106.3 205.5 107.2 214.6 107.6 221.2 119.7 219.2 129.9 222.5 141.9 231.8 143.2 224.0 133.0 220.4 122.7 M191.9 126.6 189.2 132.5 195.2 144.5 200.3 139.4 208.8 137.3 201.9 148.8 211.6 153.1 206.5 144.8 201.2 144.8 188.2 142.1 193.1 134.7 203.0 131.1 207.9 128.9 210.6 137.0 219.5 132.6 222.8 140.5 227.7 144.5 217.4 136.8 219.7 142.8 230.9 147.2 233.9 135.6 223.5 135.3 216.7 129.6 224.2 139.3 219.0 128.3 222.1 139.0 217.5 135.0 213.1 137.9 212.1 144.9 202.9 136.5 203.3 126.0 M195.1 126.8 199.8 136.0 205.9 127.4 209.2 119.7 213.5 106.6 206.0 108.8 195.4 116.7 201.1 121.8 205.3 114.4 202.5 100.8 211.6 109.6 199.6 103.1 195.7 110.9 194.3 104.5 193.6 112.0 193.4 118.2 202.5 109.8 202.2 103.0 212.4 103.7 201.7 103.4 190.1 106.5 193.7 98.5 184.9 103.7 192.3 111.6 186.6 106.2 192.6 109.9 199.1 103.9 198.9 109.9 193.5 115.1 188.2 110.6 195.0 121.3 M232.0 140.5 219.5 143.0 218.2 133.9 227.7 129.4 226.8 122.1 218.4 117.3 218.7 106.1 209.4 96.7 215.8 100.2 221.7 96.2 219.7 106.9 218.0 118.9 213.7 124.0 209.2 111.7 213.6 98.9 205.5 103.6 214.4 103.5 214.3 109.9 205.1 113.6 211.8 106.7 209.2 101.1 199.1 98.0 192.9 97.5 188.2 102.6 186.3 108.3 191.8 108.8 198.4 111.8 205.7 115.7 199.6 111.8 202.9 105.7 192.2 103.8 M233.5 104.4 227.4 102.2 220.1 108.2 227.1 96.1 218.4 94.4 216.7 99.9 215.4 107.9 206.5 104.6 213.6 108.5 215.1 103.1 228.9 102.5 228.6 94.5 216.5 98.3 226.0 91.5 232.5 92.5 236.9 96.1 244.2 98.6 245.9 110.6 240.2 117.1 252.0 120.8 241.0 119.7 242.4 126.8 239.6 115.0 243.5 110.4 236.3 109.8 224.2 110.4 225.7 124.2 236.4 132.3 232.9 139.5 238.7 132.7 233.8 136.6 M170.3 118.9 174.5 106.6 168.0 95.5 170.2 100.7 170.0 95.4 164.2 97.9 163.5 106.9 172.4 106.1 165.0 104.4 159.8 111.0 158.0 105.1 151.7 98.4 153.2 107.8 151.9 96.2 155.4 92.1 165.3 94.6 168.1 100.7 162.2 93.0 159.5 98.8 160.6 105.6 166.0 112.6 167.9 121.2 169.4 111.0 163.8 104.2 158.3 105.5 167.9 100.4 176.9 104.0 180.2 108.4 184.5 114.9 182.4 122.8 172.2 123.3 M184.0 133.5 191.8 127.4 184.9 137.5 182.8 126.7 169.6 125.0 174.4 121.4 162.4 118.8 158.2 131.8 162.9 134.6 162.0 128.7 171.3 118.3 169.7 110.9 175.7 115.8 168.5 117.1 163.7 118.7 163.2 126.7 163.4 139.3 171.5 133.6 164.9 140.2 167.4 145.5 167.1 134.7 172.1 133.4 179.9 143.2 180.3 153.0 185.4 141.6 183.4 130.8 183.1 137.0 178.6 133.8 171.2 127.7 177.2 121.8 167.1 121.8 M182.5 134.3 178.1 138.5 173.3 147.5 180.3 144.3 167.3 145.8 179.9 145.1 170.7 149.3 161.9 139.9 165.4 145.6 166.5 136.9 156.9 137.7 159.0 126.2 160.3 118.5 159.3 130.7 162.3 142.9 168.1 144.7 180.6 148.4 184.0 143.3 172.7 144.0 177.3 138.1 187.2 132.7 179.7 135.9 175.8 141.4 179.3 146.9 174.6 150.2 183.3 153.0 189.1 145.3 188.2 140.2 179.7 146.3 184.7 147.5 181.3 139.7 M167.1 141.0 178.9 148.0 173.4 147.7 168.8 142.2 163.6 143.4 169.7 142.0 168.8 136.9 164.0 128.7 164.1 137.9 163.1 132.4 167.4 141.5 177.9 143.4 180.7 148.9 168.7 147.2 163.6 144.7 163.7 138.7 162.6 150.2 166.3 140.4 168.3 130.4 168.8 139.3 168.0 145.5 161.3 134.3 169.0 132.2 161.7 142.9 169.8 132.9 175.9 130.9 185.0 135.6 182.3 147.6 178.3 151.2 187.4 149.7 182.4 152.2 M185.6 113.6 182.7 106.3 172.1 108.2 179.5 110.0 181.2 105.3 177.7 97.3 181.8 104.5 176.1 109.6 170.9 110.3 174.4 116.6 177.2 106.6 M257.6 106.8 251.2 105.7 250.0 110.2 237.6 112.9 243.2 109.3 238.3 120.4 232.2 113.6 228.7 107.7 237.7 112.0 235.9 124.4 244.5 130.2 235.4 125.3 242.9 116.7 239.8 110.7 233.0 111.4 243.1 121.0 247.3 124.8 243.4 115.8 249.0 114.8 245.9 122.8 248.9 117.0 239.3 120.2 231.2 116.5 235.4 116.1 229.5 122.5 231.0 117.8 232.5 121.8 237.6 121.5 238.3 117.5 232.4 117.5 235.9 114.8 M243.5 110.8 238.3 116.7 247.0 111.5 254.9 108.0 254.5 113.0 252.6 108.0 243.7 111.0 245.1 104.6 240.4 107.0 247.2 116.0 244.2 110.6 238.9 102.6 233.3 106.3 244.9 101.2 255.3 108.4 267.9 106.8 272.2 104.9 270.3 109.9 266.9 107.8 268.8 99.0 264.9 112.2 260.5 102.7 266.9 102.5 260.1 107.6 264.0 105.9 275.7 102.6 263.5 107.2 254.4 110.9 244.9 116.0 239.7 118.9 245.3 112.2 M246.0 139.8 248.8 134.5 259.4 139.9 257.0 136.1 260.8 126.8 269.4 126.5 273.7 128.5 272.0 120.0 278.0 124.8 274.9 118.1 279.4 117.6 266.8 120.7 259.8 121.8 263.8 123.3 259.2 128.5 258.9 123.2 261.8 134.5 266.3 130.1 272.1 122.1 274.3 116.7 281.0 108.9 267.4 107.0 279.7 110.2 275.9 121.6 264.6 120.8 262.9 129.0 267.0 118.8 271.2 116.9 257.9 113.3 259.5 117.8 268.2 117.0 M242.9 105.6 244.9 118.9 238.2 116.5 244.7 122.8 249.2 130.4 255.3 134.8 250.5 145.2 246.6 132.5 245.8 136.9 255.1 141.1 261.5 135.7 250.8 131.6 248.1 119.8 244.6 109.9 240.0 109.5 236.0 112.7 239.6 122.9 246.2 124.3 243.5 129.0 242.6 134.7 246.9 125.3 235.3 126.2 229.8 126.4 235.7 125.3 242.8 124.8 245.3 120.8 249.9 120.4 252.3 126.4 249.5 115.2 238.2 109.8 246.5 115.3 M247.5 139.9 260.1 135.5 252.8 137.6 241.5 139.5 238.7 142.6 245.3 130.9 246.8 144.2 236.2 137.0 243.0 138.8 250.0 140.5 262.0 147.7 267.4 142.7 270.8 133.1 280.2 134.0 282.8 130.6 273.5 135.0 270.3 131.2 271.2 124.0 283.1 121.2 272.0 127.7 274.1 118.8 267.4 118.8 277.7 121.6 269.3 125.9 260.7 136.7 265.0 136.6 259.2 141.9 251.7 140.0 244.8 132.9 256.2 124.9 262.4 123.3 M238.1 131.9 247.0 137.4 251.2 132.8 242.7 133.6 241.3 140.3 236.3 138.7 240.9 128.9 236.0 129.5 236.3 125.5 242.3 122.2 240.0 117.2 233.2 111.0 236.0 119.5 239.3 129.8 237.9 137.8 245.5 143.5 249.7 131.5 249.6 143.5 247.7 135.0 236.7 143.0 238.5 137.4 240.4 145.3 235.5 136.9 239.5 135.1 243.0 138.8 246.9 137.3 236.0 131.5 245.5 140.7 250.2 145.1 240.5 140.2 244.2 143.5 M248.3 113.8 255.1 124.8 254.3 133.9 260.8 124.2 250.3 123.1 258.5 125.0 256.4 134.8 267.0 133.8 270.0 125.4 276.3 116.2 267.3 125.5 274.5 126.1 268.6 122.3 271.3 119.2 277.3 121.6 287.0 120.6 280.1 118.2 276.4 130.9 266.3 136.8 259.7 138.8 250.2 134.2 237.9 130.4 249.6 132.6 248.8 128.1 248.4 116.0 237.3 109.4 249.8 113.1 245.6 118.0 236.8 108.5 249.9 112.6 239.2 120.3 M244.1 133.4 240.1 134.7 240.3 125.4 239.6 120.0 236.2 127.5 249.5 129.5 255.4 130.7 264.8 137.4 265.3 132.3 262.0 123.0 254.0 126.2 262.4 133.8 272.0 133.8 270.6 129.5 278.3 120.2 269.4 127.7 281.1 124.9 280.3 115.6 291.9 120.3 278.7 115.7 276.3 125.1 277.2 120.1 271.9 107.5 275.6 97.2 281.0 100.7 274.8 101.1 266.1 108.8 273.0 116.9 263.7 110.0 261.2 104.9 260.5 97.0 M252.2 142.5 247.8 139.8 236.8 136.3 242.3 147.3 246.8 145.9 242.0 141.8 252.2 136.9 260.9 127.0 255.4 118.6 252.5 111.4 255.0 97.7 251.3 93.0 250.7 102.7 263.5 105.3 261.3 108.7 268.9 104.8 265.1 103.2 257.0 97.4 263.5 106.7 266.6 103.2 262.7 92.1 268.2 104.6 261.8 103.1 266.2 114.3 266.0 122.3 267.2 133.0 263.9 120.5 257.3 120.3 259.5 106.6 257.9 97.9 265.1 99.8 M280.4 126.9 269.3 126.5 277.7 121.7 284.2 113.1 281.7 116.4 293.2 114.3 280.1 109.8 275.7 116.0 270.0 117.4 279.7 120.8 275.8 128.4 281.5 119.1 290.0 117.2 295.7 112.2 289.7 102.7 284.1 106.5 282.4 97.4 274.9 95.7 268.7 96.1 275.2 95.2 279.5 107.7 282.3 103.5 279.0 97.2 267.1 96.7 256.1 93.1 251.7 92.8 255.9 96.9 264.7 97.9 277.9 98.8 278.3 94.8 269.8 101.3 M254.0 103.2 258.1 91.9 256.5 96.4 264.9 97.8 257.7 105.9 260.1 99.1 266.3 96.9 260.1 105.0 269.3 97.3 273.0 95.4 271.3 100.5 278.4 109.2 274.0 110.5 273.4 119.9 275.0 127.2 280.6 126.9 279.0 116.1 274.8 117.6 269.9 111.6 269.2 123.7 259.7 116.9 252.2 124.7 250.8 135.0 239.9 134.2 251.6 137.5 256.6 136.5 247.9 132.6 244.0 137.1 242.6 132.3 245.1 120.3 239.9 122.3 M246.0 132.9 255.0 131.9 255.8 119.3 260.8 131.2 255.3 136.4 253.6 132.2 257.1 122.7 256.9 129.8 268.1 134.4 270.1 125.0 275.7 121.4 268.4 117.6 265.3 125.3 261.3 115.5 265.7 126.4 270.9 126.7 274.2 132.3 269.6 132.5 275.2 129.5 283.3 127.1 276.1 126.3 281.3 120.0 280.1 113.4 281.1 120.1 283.7 113.8 276.9 117.0 275.1 124.6 275.7 111.6 262.0 112.2 260.5 105.7 255.5 97.2 M276.8 108.8 271.0 112.9 282.0 111.3 291.6 115.3 295.1 110.6 289.6 114.1 289.3 109.8 280.6 113.4 284.5 111.1 287.2 114.8 285.9 123.5 291.4 119.5 285.2 108.6 279.6 105.7 274.9 105.2 283.8 112.0 287.6 117.7 285.2 110.4 293.8 112.3 284.0 109.0 287.4 104.5 293.5 107.7 287.9 110.5 284.4 103.1 289.8 109.9 289.1 101.0 297.8 111.1 289.3 113.8 284.5 111.8 278.3 116.3 281.7 125.6 M252.2 111.4 254.3 120.8 251.0 124.7 249.7 120.2 256.2 120.2 256.2 107.7 259.7 118.3 266.3 112.5 263.2 109.1 261.5 117.4 268.5 116.3 266.7 109.8 271.3 122.1 284.3 124.1 277.3 132.7 287.5 124.5 280.2 130.0 271.9 126.9 281.1 128.1 291.4 122.1 280.9 122.5 286.8 117.4 280.6 117.9 279.5 124.0 269.0 127.0 278.6 118.9 273.1 115.1 264.9 118.0 270.2 113.8 265.3 122.8 262.6 111.4 M241.8 102.4 248.6 103.6 241.4 93.3 248.5 91.8 253.1 96.9 246.1 98.4 248.8 106.1 241.4 112.2 239.7 117.8 234.5 117.7 238.2 113.3 231.6 110.8 239.1 120.0 230.6 119.5 237.6 129.0 240.7 133.6 248.0 130.5 252.4 129.7 239.5 129.1 244.8 128.6 255.8 135.7 247.1 137.9 240.4 135.6 247.8 144.3 251.9 133.1 255.4 120.9 251.4 117.0 255.3 109.1 256.2 102.3 263.1 114.2 267.2 117.7 M260.8 122.9 253.1 113.3 253.4 126.6 263.1 128.0 255.3 130.1 260.2 128.2 255.8 122.3 257.2 115.8 260.5 113.4 263.4 109.4 275.6 112.4 280.7 116.2 288.6 118.7 286.9 114.4 299.9 111.4 286.8 112.0 280.1 118.2 271.7 109.0 264.5 109.2 261.2 111.4 270.0 107.5 259.3 112.9 257.4 108.1 261.3 105.5 251.6 105.1 254.9 110.1 256.0 121.5 245.3 122.3 240.5 127.7 234.8 129.2 234.8 116.9 M260.7 95.5 266.0 94.2 270.2 101.2 264.4 107.6 259.8 111.8 256.8 117.7 244.1 113.4 252.9 114.8 251.6 120.3 245.4 110.6 240.9 98.5 254.0 95.9 254.5 100.5 265.0 108.6 257.6 113.0 261.6 102.5 259.0 114.8 267.7 108.3 275.5 106.7 286.1 113.8 277.0 110.5 270.2 112.5 267.8 117.7 279.8 114.7 279.7 119.4 288.4 111.8 294.3 113.6 292.6 109.9 283.9 100.9 277.4 107.3 272.3 115.2 M260.3 98.4 253.4 96.5 243.7 100.4 240.2 104.4 252.1 108.6 252.4 100.8 259.9 94.9 263.4 102.0 271.0 105.0 276.3 111.4 273.3 123.6 269.0 116.8 270.6 112.9 270.3 100.3 279.9 93.3 276.4 103.4 277.2 94.6 281.2 103.4 278.8 113.3 280.6 107.6 289.2 107.0 295.1 106.7 294.3 113.3 290.4 107.3 284.3 102.1 282.9 97.9 280.4 102.6 279.1 111.2 278.2 102.9 274.5 106.6 270.4 114.4 M267.3 130.6 268.8 137.3 271.5 130.5 267.3 135.5 255.4 141.1 251.8 143.1 240.7 144.7 235.1 140.6 239.9 135.6 242.5 139.0 246.9 134.9 258.8 129.6 249.8 123.6 254.7 124.2 250.4 119.2 239.2 119.6 242.5 124.9 241.6 129.7 234.0 135.1 242.6 124.4 243.0 113.9 238.3 112.7 232.3 115.6 235.3 109.2 234.0 121.9 237.9 110.7 238.8 116.0 247.7 114.1 248.2 106.8 243.2 109.7 237.9 107.7 M250.4 125.3 243.5 133.5 246.3 137.1 248.5 140.7 251.5 136.7 256.9 135.5 253.5 137.6 241.9 141.9 244.7 130.9 249.1 133.9 259.1 130.4 256.1 142.8 259.3 138.6 259.2 145.6 252.4 140.4 241.4 133.6 237.6 136.6 234.7 126.9 238.2 130.9 251.8 127.5 256.0 122.2 263.6 116.2 256.5 120.4 251.1 116.7 241.3 122.1 233.7 112.3 231.4 124.2 244.1 121.5 247.7 124.2 257.0 119.5 258.4 106.7 M260.9 99.0 262.0 93.5 265.5 106.5 261.6 95.7 262.7 102.2 261.0 90.0 264.8 96.6 256.5 107.8 247.2 108.9 240.4 105.1 236.0 105.5 236.7 115.2 240.9 114.5 245.3 112.1 244.3 106.8 246.8 113.9 244.2 117.8 233.0 126.2 243.7 124.2 232.0 130.4 229.6 122.0 242.1 126.0 246.9 128.3 254.9 126.1 242.7 132.0 248.4 120.7 247.5 129.9 241.1 131.3 237.3 135.6 233.7 138.3 238.4 127.7 M243.3 132.1 248.7 133.9 241.7 129.7 244.1 133.9 246.8 139.6 247.3 146.9 254.2 150.3 248.7 149.8 250.5 145.3 251.1 139.4 243.4 135.6 248.1 140.9 246.6 145.8 243.0 133.6 238.3 123.7 247.2 125.7 244.6 121.7 241.3 116.2 234.4 107.4 239.4 101.7 249.8 100.2 250.2 109.4 242.7 103.2 249.3 95.7 242.9 96.2 247.0 100.2 242.7 102.1 243.5 106.7 233.4 113.1 234.2 119.0 235.4 112.9 M258.2 124.2 265.1 132.9 271.8 121.6 264.8 133.3 254.5 132.9 247.7 136.0 248.0 123.1 239.8 114.8 232.2 114.6 237.9 104.7 232.7 110.3 240.0 118.2 250.3 108.8 252.5 113.0 244.3 110.0 250.4 101.6 255.0 102.2 261.0 98.4 255.9 104.5 266.7 108.0 276.5 115.1 269.8 105.5 263.5 103.2 269.0 108.8 264.4 102.9 275.1 99.0 286.2 105.7 280.6 101.6 276.7 97.8 272.3 105.2 271.3 110.9 M250.8 122.0 238.7 123.4 238.5 113.6 249.6 108.0 245.6 101.0 237.7 105.2 244.0 107.8 238.4 107.4 243.0 109.2 240.4 98.0 253.6 102.5 241.8 107.6 233.1 112.9 230.6 109.2 235.2 116.6 230.5 116.7 237.9 106.4 232.7 104.4 227.4 117.2 230.2 120.4 230.9 132.6 235.2 121.1 231.5 116.3 235.2 119.0 236.9 109.6 232.5 114.1 239.4 122.4 234.5 131.9 246.2 136.6 248.3 132.9 260.7 135.1 M279.2 115.4 276.7 109.2 280.6 106.2 283.7 109.9 282.3 103.0 270.6 102.1 273.9 99.3 273.9 108.0 280.8 111.2 276.3 104.3 268.6 103.6 276.9 113.8 284.9 109.9 281.9 114.2 284.0 120.4 287.8 122.1 283.6 120.0 288.9 121.3 290.8 107.7 286.5 106.4 289.3 112.2 283.4 110.3 281.2 106.1 281.8 112.3 290.8 107.3 287.9 113.7 288.1 104.1 278.0 109.1 276.7 96.9 273.8 105.1 272.2 98.1 M279.6 116.0 290.1 118.2 288.4 124.2 282.1 116.5 282.7 111.8 278.9 109.1 285.6 101.9 290.8 109.7 278.9 112.8 276.1 108.7 266.3 112.8 264.3 117.6 253.0 125.7 255.2 120.9 259.4 117.9 264.1 120.7 273.5 126.5 269.9 115.9 274.6 108.9 270.4 119.2 260.2 120.0 256.5 130.0 262.4 122.7 274.1 119.5 278.1 122.4 282.9 119.6 284.9 129.1 276.5 131.0 272.5 133.6 264.2 130.8 256.2 126.9 M238.7 130.3 231.7 124.3 239.4 123.3 236.6 131.8 241.6 136.5 236.4 132.9 245.9 133.6 241.7 134.4 253.0 137.6 250.5 142.5 257.2 134.6 253.4 136.1 261.4 139.1 250.0 137.7 245.7 136.9 238.6 132.8 245.1 131.2 242.3 137.0 237.0 140.8 239.4 146.3 238.9 139.8 243.4 142.0 254.6 139.9 245.3 141.8 239.6 135.8 235.4 127.8 242.3 136.6 234.5 143.2 237.3 139.2 248.7 141.0 241.6 144.3 M235.9 123.7 247.2 123.5 259.5 127.2 262.6 117.7 250.4 114.5 239.9 109.8 243.6 104.3 240.3 114.2 234.1 110.6 245.1 107.6 233.8 112.3 238.0 113.5 237.4 101.9 232.8 99.1 244.4 105.8 244.0 110.4 235.0 110.3 230.6 114.6 235.1 106.9 242.3 112.0 233.6 121.3 238.9 125.0 251.1 129.7 247.4 123.5 238.5 114.4 233.5 111.5 245.3 117.8 253.1 124.2 243.8 129.0 254.2 128.3 255.1 118.8 M269.6 128.0 269.1 122.2 265.3 134.5 269.2 122.9 265.9 111.2 260.9 105.4 255.9 107.4 267.3 106.9 271.2 101.4 271.0 94.6 275.1 104.9 269.5 103.0 278.6 99.0 282.7 106.7 281.7 110.7 276.4 107.9 280.1 101.0 285.0 100.3 277.3 105.7 271.5 111.3 284.7 113.7 279.0 105.3 272.7 111.8 269.3 124.2 264.3 125.2 263.7 132.5 269.7 133.3 275.0 133.0 275.6 128.2 274.1 132.2 268.1 124.9 M237.9 130.9 248.2 133.2 254.1 138.4 248.7 128.9 255.3 119.5 252.3 114.4 260.9 123.7 266.2 129.0 263.1 124.2 263.4 119.1 263.3 123.1 258.0 130.3 251.6 133.7 257.1 124.2 268.2 126.6 278.9 129.0 271.5 124.7 278.6 122.7 271.5 114.2 267.5 116.5 263.8 114.1 274.0 122.7 269.8 125.7 280.5 122.1 276.2 115.9 277.7 110.4 285.4 105.9 280.9 104.3 287.3 108.2 289.9 111.5 279.2 112.1 M254.4 135.4 262.9 134.4 267.3 136.1 274.9 134.9 268.0 132.8 269.0 122.0 265.9 109.4 276.7 106.1 277.7 114.0 281.2 117.5 278.8 122.7 281.8 114.5 273.8 107.4 272.5 94.7 283.2 97.2 285.8 108.2 293.3 109.2 283.8 104.2 275.9 111.7 283.4 108.2 285.3 102.1 290.0 101.6 295.0 111.4 287.9 112.3 287.9 105.7 288.6 119.5 286.5 124.7 276.9 121.1 283.7 121.1 281.3 114.7 288.7 123.8 M275.3 112.0 286.9 108.0 289.9 115.0 284.3 107.6 277.2 114.1 269.1 118.8 256.8 116.5 251.1 112.0 248.5 123.3 254.9 117.9 265.4 118.2 269.4 115.2 260.7 124.9 258.0 118.7 263.4 118.9 274.8 115.0 276.8 121.0 283.7 120.1 285.6 125.8 289.2 122.5 289.7 117.0 287.0 124.9 283.5 129.2 274.1 129.6 272.5 125.1 265.2 115.8 277.4 117.2 281.3 119.7 277.0 118.7 274.8 115.0 264.0 121.5 M240.7 130.9 234.5 141.8 236.5 128.7 244.4 136.1 247.5 129.0 236.4 135.0 235.6 141.0 232.5 135.1 241.7 134.9 237.2 134.1 240.7 143.3 254.6 144.3 246.2 140.1 246.9 133.0 256.5 129.1 244.8 126.0 247.6 136.0 255.1 135.6 245.8 144.1 243.1 138.2 238.7 139.5 241.8 133.1 254.6 138.3 262.0 139.6 255.5 131.3 250.1 127.0 240.9 116.6 253.1 109.7 249.4 117.9 241.4 117.4 244.5 121.1 M251.6 129.2 256.9 135.6 252.7 139.3 262.8 134.2 258.7 141.6 256.0 138.0 257.9 127.5 266.4 137.4 261.1 129.1 265.0 139.4 255.0 141.2 243.6 136.6 248.1 132.9 243.5 137.6 245.6 129.9 239.4 122.3 229.6 128.8 242.0 131.3 245.6 124.6 246.8 138.1 252.5 139.8 254.6 135.7 247.1 145.4 241.4 146.7 247.9 146.5 239.4 145.8 243.3 136.9 251.3 129.7 253.4 135.4 247.6 140.2 243.7 144.7 M276.4 103.5 270.4 113.8 262.0 119.7 260.1 126.8 273.7 129.8 269.9 127.7 274.7 131.2 265.5 128.3 264.2 134.4 268.1 128.6 264.2 133.9 258.9 128.2 255.9 132.0 248.4 128.1 245.6 135.4 242.8 129.6 239.2 119.0 247.6 108.4 245.0 104.8 238.3 107.0 241.2 102.6 239.8 107.1 248.6 102.7 249.7 95.9 259.6 95.4 264.4 98.1 273.0 102.7 276.7 100.6 286.1 97.5 273.8 96.3 267.8 93.1 M245.5 127.1 243.4 140.4 239.4 131.3 250.2 125.2 255.9 137.1 264.1 140.3 264.3 131.3 258.8 133.4 262.0 130.0 270.9 134.1 271.3 120.8 276.5 110.8 277.2 116.9 272.9 117.3 279.1 114.0 273.5 123.1 276.4 119.1 278.1 108.8 275.6 105.4 281.3 110.2 294.2 109.4 288.3 110.8 283.3 113.4 277.4 103.3 263.9 101.1 250.6 100.7 248.7 109.8 246.2 117.9 244.0 121.2 252.2 124.6 245.6 114.3 M259.0 98.6 247.7 100.9 258.0 93.9 260.4 97.7 268.0 108.9 264.1 120.9 258.4 119.0 250.6 113.3 247.0 108.9 241.8 102.6 244.7 111.3 244.0 117.0 253.9 113.3 261.4 110.2 266.2 112.7 258.9 105.6 253.2 106.6 247.3 112.0 252.0 106.2 249.7 110.8 251.5 106.7 242.7 101.5 248.3 103.7 253.9 103.0 258.0 95.3 265.2 98.0 269.2 101.6 273.6 104.4 281.2 108.6 276.3 117.0 271.8 115.9 M287.6 121.9 279.4 116.2 278.7 108.9 283.6 97.9 289.4 108.4 297.4 115.1 287.2 113.3 281.3 103.7 291.1 105.7 291.5 111.7 293.8 116.8 287.0 120.1 289.5 113.6 280.2 115.8 283.2 123.7 287.8 117.4 274.1 119.5 264.8 112.2 260.0 107.7 256.2 106.2 261.6 109.0 261.5 113.2 250.7 110.7 243.0 109.4 244.4 115.4 235.5 118.5 236.9 123.3 244.0 116.7 251.0 114.3 241.2 106.9 248.3 101.2 M280.8 124.1 286.9 124.9 277.3 124.3 276.5 129.9 287.2 123.7 273.6 126.4 276.5 132.3 273.7 125.3 281.4 118.9 286.1 108.1 286.0 115.0 287.4 101.6 282.4 107.9 277.7 108.7 283.6 116.0 279.8 109.6 290.5 104.7 285.6 115.6 284.9 125.5 282.2 114.4 291.3 114.9 288.7 105.0 284.9 108.2 277.7 99.6 271.3 103.5 278.5 111.3 275.5 121.7 279.3 109.8 275.0 102.5 279.1 110.4 282.9 113.2 M263.6 139.2 257.5 128.6 258.6 133.4 246.9 126.2 250.4 128.2 256.9 124.7 246.7 116.0 247.3 122.8 245.7 113.6 248.5 117.5 252.6 105.8 259.3 104.7 254.4 112.2 243.9 110.3 239.1 107.8 244.2 108.1 239.7 110.1 230.8 110.7 237.8 117.6 244.1 123.3 230.8 120.6 234.7 127.6 231.6 132.9 235.2 126.7 233.1 116.5 228.8 120.4 233.6 123.3 240.9 116.1 239.4 123.8 245.2 128.1 249.2 119.7 M259.0 100.1 252.2 99.4 242.4 100.9 240.8 104.7 252.1 109.3 256.2 109.2 247.2 117.7 255.0 108.1 252.6 115.6 246.5 112.8 239.8 119.3 237.9 110.7 238.2 115.0 238.8 108.5 250.6 101.7 257.8 104.0 269.1 106.0 271.8 101.5 268.4 105.6 272.5 113.8 274.6 124.6 267.8 119.7 264.1 123.2 257.5 127.7 269.8 126.6 275.6 129.8 286.6 123.8 286.2 116.2 290.3 122.3 291.9 116.4 284.0 106.0 M243.2 125.6 252.2 125.2 244.5 128.4 241.8 138.8 253.5 138.3 250.0 134.0 259.3 138.2 267.8 127.2 256.2 124.1 249.0 135.8 249.9 128.6 242.1 133.0 247.9 135.7 240.5 134.7 243.6 145.9 246.0 135.6 244.7 125.5 251.2 126.6 261.6 122.3 255.8 112.6 262.4 107.4 270.3 102.9 262.8 105.2 262.1 98.4 263.6 103.1 270.7 100.2 268.4 93.0 270.6 101.4 283.9 105.2 277.0 111.5 276.6 102.4 M251.5 125.4 242.2 132.8 245.1 141.6 236.8 142.0 240.8 141.2 245.4 134.6 253.4 128.7 264.3 133.2 276.3 129.1 281.7 116.3 284.6 121.2 292.0 117.3 289.3 110.5 282.3 118.5 282.3 130.3 277.4 132.7 280.5 119.2 275.3 121.1 277.9 113.7 277.7 109.7 280.8 107.0 271.3 102.4 258.6 103.7 246.6 103.5 251.2 102.4 255.3 102.6 257.5 98.3 247.7 106.1 246.1 111.3 242.0 106.9 245.6 110.5 M260.2 139.4 247.2 141.7 244.5 136.8 247.2 127.6 257.2 132.7 262.3 139.2 251.9 142.1 247.8 131.6 256.4 138.5 267.3 137.0 276.4 136.8 268.0 137.8 276.6 133.5 279.8 126.9 269.4 120.2 271.4 129.0 263.8 136.0 259.7 135.0 248.2 140.2 246.9 134.6 251.7 143.9 263.0 142.7 266.7 141.1 274.0 133.2 275.0 120.2 269.6 121.9 262.0 111.0 268.0 113.2 268.1 119.5 265.1 122.1 268.3 118.8 M248.0 111.9 261.6 110.7 259.8 122.8 259.5 112.3 265.2 106.7 262.8 118.4 273.3 122.1 268.1 120.3 266.0 115.3 262.4 121.3 266.8 125.0 254.7 125.9 249.4 122.0 243.9 130.7 236.1 128.6 243.7 138.2 250.5 129.9 248.3 135.7 238.8 131.6 245.0 124.5 246.7 116.9 254.3 112.0 257.6 114.8 268.5 106.5 258.1 97.6 267.2 100.9 275.2 102.5 264.4 97.4 272.3 105.3 261.4 105.6 265.4 116.7 M265.3 115.0 273.1 116.9 277.4 117.4 283.5 111.4 277.1 112.6 280.3 100.6 291.4 106.5 291.5 115.7 287.9 108.5 286.5 121.1 282.2 125.3 270.2 126.9 270.8 114.9 268.9 108.3 276.7 109.3 283.4 108.0 279.1 98.5 276.2 101.7 276.4 108.9 266.1 115.7 261.6 116.8 267.6 112.2 258.3 115.8 255.6 103.2 261.0 100.7 263.5 111.1 269.3 114.1 271.0 119.1 275.8 112.1 285.5 120.4 287.2 109.4 M255.2 129.4 249.1 130.8 243.5 135.4 245.6 145.5 246.5 135.8 244.4 128.1 243.2 120.5 232.4 116.3 242.4 118.7 249.2 123.5 262.1 121.0 270.8 125.6 260.8 127.6 270.3 125.4 262.4 130.6 258.2 128.4 254.0 119.9 248.0 123.5 241.8 111.8 246.1 114.5 235.8 121.8 240.2 129.9 235.6 123.8 243.6 129.6 257.0 128.5 251.4 141.0 241.2 135.3 248.7 128.7 250.6 121.1 256.0 110.6 261.2 117.9 M237.9 133.2 232.9 126.3 233.0 130.8 230.3 137.6 233.1 142.9 231.5 137.7 236.2 127.8 243.5 129.1 249.7 124.4 256.8 126.6 253.5 116.6 258.3 121.7 256.4 117.1 245.9 116.9 253.0 126.3 262.9 123.0 267.3 121.0 270.5 110.6 267.2 116.4 267.7 111.3 277.2 110.9 283.6 117.0 290.4 112.3 286.0 112.4 281.3 121.7 287.1 129.4 288.8 125.7 284.9 126.9 276.4 116.6 271.2 114.4 279.3 114.1 M236.2 128.9 245.6 122.1 247.1 118.3 243.1 123.2 249.1 127.4 257.7 131.8 245.4 134.0 240.0 135.9 240.6 142.9 237.3 132.8 240.2 144.2 233.7 137.1 232.9 132.9 233.9 138.3 237.2 128.9 236.5 121.1 246.2 115.3 237.1 121.4 236.5 117.1 241.6 115.9 254.2 119.2 254.7 110.7 263.5 119.8 272.1 116.9 265.6 107.0 260.6 111.5 254.2 116.9 256.7 109.7 267.1 107.4 270.6 110.6 275.4 111.1 M249.0 108.6 254.3 115.2 267.3 113.5 273.3 110.2 266.6 114.4 268.0 106.6 266.2 118.4 259.5 130.1 260.1 119.5 248.8 122.3 237.8 115.6 249.1 116.0 254.2 115.8 266.2 111.3 253.7 107.6 258.5 102.5 254.7 96.5 256.4 102.8 254.7 113.1 251.0 110.3 251.2 106.3 263.4 111.1 262.8 117.9 268.0 121.1 281.3 118.2 281.6 111.5 277.0 111.4 271.6 122.6 283.8 123.3 280.2 115.2 282.4 110.6 M234.8 128.9 233.5 121.7 232.8 116.5 228.7 124.3 230.8 129.6 244.4 126.4 237.7 126.1 236.2 133.6 249.5 136.4 243.4 139.8 253.3 136.0 256.5 127.7 260.8 134.0 264.3 127.0 275.5 134.7 276.1 121.8 268.9 112.0 273.7 107.8 270.6 102.9 274.1 107.0 265.3 110.8 267.3 101.5 267.0 110.0 269.4 104.5 277.6 106.7 273.2 110.0 283.4 100.4 271.0 102.6 263.8 92.3 254.5 97.1 247.2 95.6 M291.3 119.6 283.0 117.0 284.8 111.3 279.4 105.5 276.6 116.9 284.5 113.1 287.8 107.8 281.3 116.5 294.9 116.3 282.6 119.5 290.1 122.6 284.3 123.4 276.4 112.4 279.9 124.9 274.4 121.0 273.5 125.3 267.5 126.8 260.3 117.9 259.2 126.7 260.7 122.0 267.6 129.0 267.2 124.0 273.2 114.6 279.6 118.9 281.0 125.4 274.5 130.0 279.5 130.3 270.6 132.5 264.1 130.1 262.0 134.3 263.3 138.4 M253.9 103.8 257.1 96.1 266.0 97.2 261.7 103.5 266.5 99.5 269.3 93.9 259.4 102.3 267.1 103.5 276.6 108.9 271.7 97.9 266.1 109.5 271.1 100.0 273.1 96.1 278.4 104.1 274.2 106.3 277.1 116.9 270.4 107.4 265.0 108.5 266.3 96.8 264.9 110.6 272.4 111.5 272.3 116.9 284.0 109.8 287.2 100.6 291.3 105.1 282.1 104.4 271.6 102.2 264.6 100.2 256.3 108.9 265.3 112.6 271.1 100.3 M273.9 132.5 278.8 128.7 275.3 136.1 271.0 133.7 268.6 128.6 271.4 115.4 261.1 113.5 270.8 111.0 275.4 122.3 285.0 127.4 280.7 114.1 273.0 104.1 281.3 107.7 278.8 117.2 274.0 110.8 286.5 114.4 283.9 119.7 277.4 131.1 268.7 122.5 274.4 126.6 271.8 121.9 263.0 119.0 271.1 122.4 278.9 129.4 276.8 134.3 269.9 132.7 266.6 136.9 260.4 131.1 259.3 135.2 269.2 129.9 272.7 126.3 M279.5 125.5 279.7 134.3 273.8 132.7 274.8 127.3 282.1 124.0 287.0 117.1 287.6 110.9 282.0 109.8 269.4 110.8 263.9 100.8 268.6 103.4 264.0 103.6 274.5 110.8 272.4 104.6 271.6 109.1 264.9 114.6 257.8 110.7 256.4 104.8 256.6 99.1 266.4 99.3 274.0 110.6 276.9 106.7 280.6 109.4 275.1 114.4 277.4 120.8 276.9 125.3 269.8 120.4 273.2 129.8 270.2 133.7 265.2 128.2 270.4 127.2 M242.3 106.9 249.8 99.3 243.0 102.6 250.5 97.9 255.4 97.6 264.6 106.5 258.7 97.3 251.3 107.2 259.6 114.4 265.0 105.4 273.9 102.6 284.8 106.8 288.7 102.3 280.6 112.4 281.4 125.5 285.8 118.4 291.0 115.0 285.6 119.6 281.4 117.6 292.7 120.8 290.8 125.8 289.1 118.1 284.8 123.5 282.3 117.6 278.3 122.6 270.2 116.3 281.6 115.5 271.1 115.3 261.8 115.1 261.1 110.4 260.6 116.5 M283.1 126.0 272.2 132.0 275.8 130.3 269.7 135.6 263.7 137.6 268.3 131.1 272.6 126.0 278.6 125.9 279.1 135.3 274.5 123.2 267.7 113.3 265.5 106.8 265.8 118.6 269.8 116.9 264.9 112.2 277.8 112.3 283.1 124.0 281.7 130.3 283.4 126.5 287.3 115.8 283.2 114.3 M161.0 149.7 166.4 158.0 172.3 152.5 177.7 152.5 176.3 147.0 177.5 156.1 179.1 151.0 173.7 150.6 169.8 152.7 165.1 158.4 161.1 153.3 168.1 153.1 172.9 153.7 180.4 150.6 178.8 157.4 182.6 160.2 173.8 161.9 168.0 166.0 173.8 164.0 170.5 172.3 175.5 168.9 183.9 173.2 179.3 173.9 178.9 168.2 186.5 162.3 179.7 162.3 183.9 163.4 177.7 160.6 170.9 156.0 174.4 158.1 170.7 153.1 M168.9 164.3 162.1 166.7 169.5 160.9 172.9 158.7 165.8 158.7 166.1 166.2 172.2 166.3 180.4 162.2 170.7 161.9 169.7 155.6 173.4 150.9 166.0 152.9 161.8 150.8 160.0 144.3 162.4 151.1 161.2 143.7 167.1 144.8 163.9 148.8 171.4 148.6 176.4 150.8 184.8 154.8 189.8 162.7 182.8 156.7 184.0 165.0 184.0 160.1 186.1 164.0 178.2 167.0 184.9 166.1 182.4 162.6 177.7 170.6 177.1 177.3 M176.6 167.8 181.5 176.2 171.8 177.4 166.5 176.8 167.0 169.7 164.3 162.1 168.6 157.0 175.0 150.1 181.1 144.7 172.6 140.4 169.7 135.8 162.0 137.2 159.3 142.9 162.9 146.8 164.0 154.7 161.1 147.0 161.5 152.5 163.6 157.5 168.2 155.6 162.9 147.4 171.2 149.7 167.4 154.7 161.0 150.7 167.9 144.8 164.1 147.0 159.7 148.8 165.8 150.6 167.8 144.8 162.9 152.2 166.8 156.8 174.0 150.3 M178.0 159.0 169.0 162.5 172.1 166.5 180.8 166.1 178.9 156.6 174.6 164.3 175.4 157.0 182.2 154.1 178.8 161.9 185.8 155.1 191.3 155.5 181.6 154.0 183.7 150.2 180.8 154.4 185.2 158.1 185.8 167.4 186.0 163.2 187.7 156.8 181.5 152.0 182.5 147.8 189.0 150.1 182.1 144.9 175.6 152.1 168.7 157.3 165.2 160.7 159.7 155.3 161.0 161.6 165.0 162.0 173.1 167.4 175.8 173.3 174.7 169.1 M162.4 145.9 163.4 141.9 161.5 147.4 165.5 140.9 169.9 142.9 163.2 141.1 164.4 147.2 167.7 141.7 167.6 145.8 175.4 149.3 173.3 156.1 175.2 150.6 180.6 156.5 187.1 150.2 179.7 144.5 170.4 143.6 163.2 137.5 167.6 140.9 158.2 140.7 163.8 140.9 171.1 145.4 174.6 149.3 167.5 155.3 159.4 151.1 158.1 158.5 162.6 166.6 166.5 161.4 162.9 158.9 163.6 167.1 164.2 171.9 168.2 175.9 M174.2 175.5 177.0 169.2 183.1 166.5 175.4 166.5 173.9 172.3 169.3 175.4 167.9 167.8 171.6 169.8 176.6 163.2 178.6 153.6 172.2 151.1 176.6 142.6 178.3 151.3 183.6 157.9 181.2 163.4 174.4 162.9 167.4 159.2 170.4 165.2 175.2 165.6 175.6 173.2 166.6 169.7 176.3 170.5 179.9 161.8 173.5 164.7 169.1 170.7 172.5 162.0 172.1 166.4 180.8 171.0 176.8 169.8 184.3 173.1 185.6 163.9 M177.9 164.6 183.9 163.8 186.8 155.0 187.6 162.8 181.6 167.2 181.2 162.6 175.4 162.2 174.9 168.8 180.1 168.2 181.3 172.8 173.2 177.0 181.5 174.2 185.5 170.3 178.0 172.3 182.1 172.7 184.3 177.0 182.7 173.2 187.7 174.9 181.2 177.9 174.3 175.6 169.6 175.2 165.3 172.4 170.9 165.9 164.9 165.2 167.1 156.8 167.8 148.1 168.7 154.3 161.8 155.3 168.0 154.5 171.7 149.3 177.4 153.6 M181.0 159.3 183.6 151.2 178.5 150.3 179.5 146.1 171.9 147.3 168.3 142.8 167.3 148.8 164.9 153.4 166.5 158.1 176.1 159.6 175.2 155.3 M186.5 91.3 185.0 85.3 194.0 82.5 195.7 91.8 201.1 99.6 212.1 98.5 207.9 100.8 202.4 100.3 196.6 97.2 200.7 97.1 193.9 97.6 188.7 99.2 193.3 92.7 204.9 93.7 213.1 101.7 205.9 91.2 216.5 85.4 206.6 86.8 201.7 76.4 197.3 85.8 197.6 93.3 203.5 84.4 207.8 78.3 208.2 84.4 204.2 79.5 194.3 86.2 194.0 90.7 185.6 98.3 181.2 93.4 186.0 99.3 190.8 92.4 M182.8 80.8 185.3 70.4 191.3 77.1 196.2 76.8 200.6 78.5 206.5 82.8 211.8 85.0 215.8 85.4 211.2 81.7 206.5 76.0 209.4 86.7 198.3 83.9 204.3 81.7 196.1 83.1 186.0 85.7 187.8 90.2 191.3 92.7 187.5 83.2 188.0 76.1 198.5 82.8 205.3 76.7 204.5 71.3 211.4 73.2 206.2 76.9 200.3 72.8 193.8 75.7 195.5 83.0 201.1 84.9 197.6 78.8 194.1 81.1 194.7 88.0 M216.0 91.4 223.9 101.3 228.2 97.5 218.6 89.1 209.9 88.1 206.1 96.9 204.4 101.9 199.5 97.4 207.2 95.3 217.3 100.4 227.9 97.2 233.6 97.4 222.6 103.5 228.1 94.1 231.8 100.9 231.9 95.5 231.4 91.2 224.2 91.3 229.9 93.8 230.9 99.3 224.2 90.7 223.1 103.2 228.4 98.5 219.8 100.7 212.0 105.7 209.1 97.4 215.3 99.1 223.7 98.3 227.2 92.5 220.2 84.7 216.6 86.8 M185.8 72.2 180.3 66.6 183.0 78.1 178.8 75.1 183.3 71.5 180.2 76.9 174.9 76.1 177.3 71.6 186.5 74.7 185.5 83.3 189.9 82.5 197.1 83.1 193.0 89.8 204.2 88.5 195.1 80.6 199.4 83.4 189.3 80.0 193.9 76.4 196.0 86.8 190.3 85.7 189.1 90.4 192.5 79.8 198.5 70.2 209.3 67.1 213.1 70.0 216.0 74.4 209.8 77.0 214.2 86.3 204.2 94.1 198.2 92.5 196.8 85.5 M192.4 94.4 196.4 86.1 199.7 93.3 200.4 86.0 209.9 86.6 207.0 93.2 217.3 89.5 219.3 93.8 218.4 98.2 228.3 106.2 223.8 104.9 219.8 98.8 220.5 94.1 214.9 87.7 223.2 93.5 218.6 101.4 218.4 93.4 212.7 103.2 213.8 92.2 206.7 90.8 214.3 94.0 211.0 86.3 203.7 86.9 212.0 78.3 207.1 89.5 206.5 94.1 214.3 94.8 207.0 95.3 202.3 98.1 209.7 102.1 201.9 100.4 M192.8 92.1 197.9 96.8 205.5 103.3 206.0 91.5 201.8 97.3 204.8 93.3 212.6 85.5 215.1 89.2 220.4 81.8 223.1 85.9 226.4 89.6 228.7 93.0 230.5 102.1 227.0 99.9 218.7 93.5 214.3 89.6 209.1 81.5 196.7 84.7 191.3 75.2 186.9 87.2 190.8 95.0 186.1 86.2 181.2 84.2 187.6 89.4 183.5 94.1 183.7 85.4 171.8 86.8 183.2 90.7 193.4 84.4 188.5 84.7 195.1 81.5 M204.5 75.3 206.9 86.0 208.7 98.0 215.8 105.9 209.2 107.3 207.8 102.4 213.9 103.2 208.1 96.8 197.5 91.7 186.2 96.2 192.5 90.5 204.5 88.9 201.6 82.3 194.6 76.5 187.6 77.9 193.6 73.6 190.9 84.6 179.1 81.4 189.9 86.0 195.6 83.7 186.2 80.9 181.7 81.3 190.0 76.6 185.3 74.2 183.2 67.7 175.5 72.0 174.8 80.0 169.6 84.2 176.0 80.2 171.2 79.6 166.9 80.6 M225.2 95.6 221.0 95.1 218.4 90.6 224.0 87.4 215.4 77.9 220.3 75.9 218.0 83.3 211.4 84.7 216.0 94.7 223.4 96.2 218.6 96.1 223.2 103.6 229.5 104.2 224.9 97.8 220.7 95.4 209.4 95.8 217.0 97.4 217.2 87.5 222.0 89.5 218.3 94.3 215.2 83.4 208.2 78.5 210.3 90.8 217.7 95.3 228.9 101.3 233.0 97.2 233.9 101.6 228.6 98.6 227.9 105.9 216.0 102.4 221.9 92.3 M214.5 85.4 205.4 86.5 194.0 86.1 187.8 86.3 176.6 80.3 180.3 75.1 174.9 77.1 173.4 70.0 179.6 75.7 182.2 80.8 173.8 81.7 174.0 73.0 183.2 75.1 171.0 79.0 168.0 84.6 165.9 75.8 165.8 82.0 169.3 72.7 178.2 81.9 187.5 88.6 180.0 79.3 184.9 75.7 188.1 71.8 183.7 66.7 184.2 76.8 181.4 80.7 182.0 89.8 174.6 82.0 182.7 77.3 184.0 72.8 193.3 81.0 M212.4 79.0 211.4 91.6 210.6 84.5 208.2 88.6 219.5 87.3 218.4 79.4 210.0 80.9 198.7 81.9 203.6 76.5 216.2 76.5 209.7 87.6 209.0 98.5 205.3 95.9 210.2 102.8 217.1 102.1 209.1 92.3 215.9 88.7 209.6 84.8 205.1 73.0 213.0 73.8 211.9 78.1 208.4 86.5 201.3 81.2 196.3 84.2 197.5 89.9 209.4 85.9 199.9 85.1 202.3 75.3 200.9 79.4 204.8 82.0 214.0 78.8 M176.9 86.3 173.0 77.9 177.9 72.0 173.5 74.7 180.6 83.9 189.7 84.4 200.5 83.3 204.0 93.8 212.4 88.3 203.0 90.9 210.6 94.8 221.7 99.6 216.1 89.2 211.9 90.8 217.4 95.3 220.9 90.9 213.7 88.6 218.1 97.4 218.3 88.7 226.8 97.4 218.4 92.2 211.3 98.1 214.6 95.0 218.0 92.8 228.3 94.0 223.9 89.5 215.8 99.0 214.6 94.2 209.9 100.6 214.2 98.3 209.2 98.2 M200.0 82.7 188.7 79.6 189.9 72.1 184.9 75.4 181.0 70.7 174.1 75.4 174.5 84.3 180.7 78.8 183.9 86.2 189.1 85.7 176.7 89.2 184.4 85.3 188.5 74.3 182.5 85.0 179.1 81.8 173.2 78.2 173.7 85.2 170.5 81.1 168.5 76.5 179.9 79.3 189.3 82.6 198.7 81.9 208.1 81.8 212.7 93.7 207.5 92.1 204.5 87.1 201.8 91.7 207.5 100.7 210.7 90.1 206.3 94.1 209.1 88.5 M209.2 90.5 211.1 95.2 204.8 96.6 206.9 105.3 213.0 96.8 211.9 85.6 216.8 86.3 217.8 92.0 207.2 84.6 217.5 90.9 220.7 88.3 219.8 81.0 221.4 91.2 225.5 98.9 224.4 106.9 221.5 111.4 221.3 100.8 223.6 88.3 220.6 83.3 210.8 88.4 205.5 99.8 202.9 87.8 195.1 89.0 198.2 97.5 199.1 91.6 187.6 93.8 198.0 99.4 209.9 103.1 204.2 94.1 210.4 96.4 205.6 91.8 M180.5 88.3 192.1 93.3 195.3 95.8 200.4 99.5 205.6 91.2 215.2 99.8 208.0 96.9 214.7 89.2 202.9 89.8 212.5 86.2 201.0 84.1 198.2 80.6 197.9 86.4 194.0 88.3 195.8 92.0 203.1 90.4 205.2 77.8 200.5 77.9 196.8 83.2 197.2 74.4 201.9 82.6 197.4 75.4 194.3 78.7 195.6 83.6 185.0 81.4 186.1 92.1 180.2 92.7 179.4 81.0 175.5 84.4 182.0 88.5 175.0 82.5 M209.1 94.0 210.0 98.6 210.3 93.1 203.2 100.3 195.9 89.7 186.2 93.3 181.2 95.6 182.2 90.4 184.5 85.9 188.5 91.9 176.7 93.3 180.1 86.8 176.3 79.3 183.2 85.1 182.1 80.8 194.4 81.1 204.7 87.2 208.9 77.7 204.9 75.1 208.9 84.6 202.4 95.2 199.8 89.2 201.4 83.2 204.2 95.7 214.1 94.5 208.6 93.2 212.1 81.7 209.1 74.5 205.6 77.2 197.4 77.0 189.4 77.4 M211.3 98.3 203.7 93.4 199.0 88.7 195.3 80.5 194.7 88.5 204.2 79.7 197.6 90.8 187.3 91.6 196.4 95.3 201.9 102.9 206.5 91.7 198.0 97.2 189.4 95.4 193.9 94.8 195.6 85.4 197.2 75.9 193.6 86.2 195.3 95.2 201.1 97.8 196.9 101.0 207.8 94.7 211.0 90.0 210.8 85.2 218.5 81.2 218.5 89.1 221.5 95.4 224.1 92.3 226.3 100.2 219.5 100.6 215.8 98.3 206.6 91.9 M174.8 83.6 179.8 77.7 182.0 83.1 188.8 76.4 180.0 73.1 171.8 72.3 178.1 73.8 181.7 76.1 175.4 84.8 186.5 89.2 178.4 93.2 175.8 84.9 178.4 78.1 182.1 73.2 183.6 65.9 185.1 70.4 182.9 81.0 189.1 73.2 177.1 73.1 184.8 71.6 177.7 76.6 183.5 76.8 186.9 80.9 183.6 77.8 178.4 75.7 189.5 74.7 187.0 80.2 190.1 74.9 196.0 81.8 204.3 86.7 205.8 97.9 M217.8 102.1 222.1 102.4 211.3 101.9 214.1 97.9 207.4 100.8 201.4 93.2 200.7 84.4 203.6 80.5 208.7 82.1 201.3 83.1 199.0 87.5 200.8 94.9 195.6 85.1 183.1 87.8 178.3 94.9 174.3 93.0 184.6 97.3 189.2 97.0 198.5 100.6 201.7 93.9 209.7 97.2 222.1 99.5 212.2 99.1 211.6 94.3 219.9 86.8 222.2 81.4 215.7 92.3 217.3 98.9 210.7 98.1 219.2 105.1 219.7 109.6 M200.2 79.5 204.0 89.3 208.1 99.7 211.7 95.8 207.6 98.6 200.3 96.3 188.8 92.0 200.1 98.4 196.1 100.6 192.4 102.8 200.9 95.9 208.7 97.7 212.8 102.7 209.0 106.2 208.9 98.3 215.7 95.3 223.4 95.7 216.7 94.9 220.8 92.8 213.3 96.9 213.5 90.5 214.4 94.5 212.8 83.4 217.0 79.9 213.8 87.5 201.7 91.2 202.1 95.9 211.6 90.6 203.1 95.7 194.2 93.4 182.6 93.5 M212.4 91.9 218.1 95.9 216.1 91.8 216.1 84.4 209.3 77.2 218.0 73.4 212.1 74.8 213.7 85.3 214.2 91.5 217.3 101.0 212.1 105.3 200.0 101.0 202.6 104.6 211.9 103.0 216.5 91.6 218.0 80.0 224.9 84.3 219.8 75.5 222.7 87.9 218.2 95.1 205.8 98.6 207.5 89.3 204.6 85.0 207.1 96.7 201.2 94.1 201.9 89.0 206.4 93.4 206.5 81.8 202.2 73.5 214.3 75.8 212.0 79.7 M221.4 77.3 218.1 81.1 223.7 74.3 220.3 66.6 223.4 75.4 226.0 67.7 231.9 73.5 226.0 77.3 221.1 71.5 215.2 75.3 214.9 71.0 211.4 69.0 215.3 72.6 219.5 71.4 218.1 79.8 208.9 77.9 215.1 82.0 223.5 83.0 223.4 74.7 218.3 69.8 227.6 72.9 231.0 78.4 223.8 79.3 216.0 75.2 221.7 70.4 222.9 76.7 228.8 79.9 220.0 80.8 212.0 75.2 216.9 74.1 217.6 79.9 M222.2 81.4 217.9 82.9 213.1 81.2 216.1 77.4 210.6 79.1 219.9 79.6 217.9 83.4 215.9 79.8 214.4 74.2 221.1 73.6 229.3 69.3 225.5 72.1 225.0 78.2 216.3 73.4 223.7 77.5 217.3 70.9 220.8 74.1 228.7 70.0 228.6 74.5 225.8 68.1 216.0 67.8 220.9 70.0 224.1 74.4 217.7 72.7 224.3 79.7 218.1 79.6 215.8 83.4 210.4 82.9 218.5 80.2 211.9 73.6 213.4 80.7" fill="none" stroke="#ff0000" stroke-width="1.4" stroke-linejoin="miter"/>
<rect x="71.5" y="14.0" width="269.4" height="196.8" fill="none" stroke="#444" stroke-width="1.5"/>
<path d="M86.5,210.8 V202.8 M101.4,210.8 V195.3 M116.4,210.8 V202.8 M131.4,210.8 V195.3 M146.3,210.8 V202.8 M161.3,210.8 V195.3 M176.3,210.8 V202.8 M191.2,210.8 V195.3 M206.2,210.8 V202.8 M221.2,210.8 V195.3 M236.1,210.8 V202.8 M251.1,210.8 V195.3 M266.1,210.8 V202.8 M281.0,210.8 V195.3 M296.0,210.8 V202.8 M311.0,210.8 V195.3 M325.9,210.8 V202.8 M71.5,198.5 H79.0 M71.5,186.2 H86.0 M71.5,173.9 H79.0 M71.5,161.6 H86.0 M71.5,149.3 H79.0 M71.5,137.0 H86.0 M71.5,124.7 H79.0 M71.5,112.4 H86.0 M71.5,100.1 H79.0 M71.5,87.8 H86.0 M71.5,75.5 H79.0 M71.5,63.2 H86.0 M71.5,50.9 H79.0 M71.5,38.6 H86.0 M71.5,26.3 H79.0" stroke="#444" stroke-width="1.5" fill="none"/>
<text transform="translate(71.50,233.30) scale(0.88,1)" font-size="23" text-anchor="middle">-8</text>
<text transform="translate(101.43,233.30) scale(0.88,1)" font-size="23" text-anchor="middle">-6</text>
<text transform="translate(131.37,233.30) scale(0.88,1)" font-size="23" text-anchor="middle">-4</text>
<text transform="translate(161.30,233.30) scale(0.88,1)" font-size="23" text-anchor="middle">-2</text>
<text transform="translate(191.23,233.30) scale(0.88,1)" font-size="23" text-anchor="middle">0</text>
<text transform="translate(221.17,233.30) scale(0.88,1)" font-size="23" text-anchor="middle">2</text>
<text transform="translate(251.10,233.30) scale(0.88,1)" font-size="23" text-anchor="middle">4</text>
<text transform="translate(281.03,233.30) scale(0.88,1)" font-size="23" text-anchor="middle">6</text>
<text transform="translate(310.97,233.30) scale(0.88,1)" font-size="23" text-anchor="middle">8</text>
<text transform="translate(340.90,233.30) scale(0.88,1)" font-size="23" text-anchor="middle">10</text>
<text transform="translate(65.30,218.40) scale(0.88,1)" font-size="23" text-anchor="end">-8</text>
<text transform="translate(65.30,193.80) scale(0.88,1)" font-size="23" text-anchor="end">-6</text>
<text transform="translate(65.30,169.20) scale(0.88,1)" font-size="23" text-anchor="end">-4</text>
<text transform="translate(65.30,144.60) scale(0.88,1)" font-size="23" text-anchor="end">-2</text>
<text transform="translate(65.30,120.00) scale(0.88,1)" font-size="23" text-anchor="end">0</text>
<text transform="translate(65.30,95.40) scale(0.88,1)" font-size="23" text-anchor="end">2</text>
<text transform="translate(65.30,70.80) scale(0.88,1)" font-size="23" text-anchor="end">4</text>
<text transform="translate(65.30,46.20) scale(0.88,1)" font-size="23" text-anchor="end">6</text>
<text transform="translate(65.30,21.60) scale(0.88,1)" font-size="23" text-anchor="end">8</text>
<text x="75.3" y="255.8" font-size="21.5" textLength="262" lengthAdjust="spacingAndGlyphs">projection on eigenvector 1 (nm)</text>
<text transform="translate(16.8,163.4) rotate(-90)" x="0" y="0" font-size="21" textLength="112" lengthAdjust="spacingAndGlyphs">projection on</text>
<text transform="translate(37,190.5) rotate(-90)" x="0" y="0" font-size="21" textLength="162" lengthAdjust="spacingAndGlyphs">eigenvector 2 (nm)</text>
<text x="3.8" y="15" font-size="21" font-weight="bold">(a)</text>
<path d="M238.3,25.8 H255.8" stroke="#2a2a2a" stroke-width="1.5"/>
<path d="M238.3,40.6 H255.8" stroke="#c43a3a" stroke-width="1.5"/>
<text x="262.2" y="29.6" font-size="12.4" fill="#222" textLength="70.8" lengthAdjust="spacingAndGlyphs">G6P-SLC37A4</text>
<text x="262.2" y="45.0" font-size="12.4" fill="#222" textLength="74.5" lengthAdjust="spacingAndGlyphs">CGA-SLC37A4</text>
<path d="M442.5,130.8 L448.5,158.2 L454.5,186.9 L460.5,196.9 L466.5,199.6 L472.5,202.9 L478.5,205.0 L484.5,207.0 L490.5,207.9 L496.5,208.7 L502.5,209.5 L508.5,210.2 L514.5,210.7 L520.5,211.1 L526.5,211.5 L532.5,211.9 L538.5,212.3 L544.5,212.6 L550.5,212.8 L556.5,213.0 L562.5,213.0 L568.5,213.0 L574.5,213.1 L580.5,213.1 L586.5,213.1 L592.5,213.2 L598.5,213.2 L604.5,213.2 L610.5,213.3 L616.5,213.3 L622.5,213.4 L628.5,213.4 L634.5,213.4 L640.5,213.5 L646.5,213.5 L652.5,213.5 L658.5,213.6 L664.5,213.6 L670.5,213.6 L676.5,213.7 L682.5,213.7 L688.5,213.7 L694.5,213.8 L700.5,213.8 L706.5,213.9 L712.5,213.9 L718.5,213.9 L724.5,214.0 L730.5,214.0 L736.5,214.0" fill="none" stroke="#111" stroke-width="2.0" stroke-linejoin="round"/>
<path d="M442.5,40.7 L448.5,184.9 L454.5,189.6 L460.5,201.6 L466.5,202.3 L472.5,204.3 L478.5,205.2 L484.5,207.6 L490.5,208.3 L496.5,209.0 L502.5,209.9 L508.5,210.6 L514.5,211.0 L520.5,211.4 L526.5,211.9 L532.5,212.3 L538.5,212.7 L544.5,213.0 L550.5,213.1 L556.5,213.2 L562.5,213.3 L568.5,213.3 L574.5,213.3 L580.5,213.3 L586.5,213.4 L592.5,213.4 L598.5,213.4 L604.5,213.4 L610.5,213.5 L616.5,213.5 L622.5,213.5 L628.5,213.6 L634.5,213.6 L640.5,213.6 L646.5,213.6 L652.5,213.7 L658.5,213.7 L664.5,213.7 L670.5,213.7 L676.5,213.8 L682.5,213.8 L688.5,213.8 L694.5,213.8 L700.5,213.9 L706.5,213.9 L712.5,213.9 L718.5,214.0 L724.5,214.0 L730.5,214.0 L736.5,214.0" fill="none" stroke="#dd1822" stroke-width="2.0" stroke-linejoin="round"/>
<rect x="436.5" y="14.0" width="300.0" height="200.3" fill="none" stroke="#444" stroke-width="1.5"/>
<path d="M466.5,214.3 V206.7 M496.5,214.3 V199.3 M526.5,214.3 V206.7 M556.5,214.3 V199.3 M586.5,214.3 V206.7 M616.5,214.3 V199.3 M646.5,214.3 V206.7 M676.5,214.3 V199.3 M706.5,214.3 V206.7 M436.5,180.9 H443.5 M436.5,147.5 H451.3 M436.5,114.2 H443.5 M436.5,80.8 H451.3 M436.5,47.4 H443.5" stroke="#444" stroke-width="1.5" fill="none"/>
<text transform="translate(436.50,236.90) scale(0.88,1)" font-size="23" text-anchor="middle">0</text>
<text transform="translate(496.50,236.90) scale(0.88,1)" font-size="23" text-anchor="middle">10</text>
<text transform="translate(556.50,236.90) scale(0.88,1)" font-size="23" text-anchor="middle">20</text>
<text transform="translate(616.50,236.90) scale(0.88,1)" font-size="23" text-anchor="middle">30</text>
<text transform="translate(676.50,236.90) scale(0.88,1)" font-size="23" text-anchor="middle">40</text>
<text transform="translate(736.50,236.90) scale(0.88,1)" font-size="23" text-anchor="middle">50</text>
<text transform="translate(430.30,221.90) scale(0.88,1)" font-size="23" text-anchor="end">0</text>
<text transform="translate(430.30,155.13) scale(0.88,1)" font-size="23" text-anchor="end">5</text>
<text transform="translate(430.30,88.37) scale(0.88,1)" font-size="23" text-anchor="end">10</text>
<text transform="translate(430.30,21.60) scale(0.88,1)" font-size="23" text-anchor="end">15</text>
<text x="514.9" y="259.8" font-size="21.5" textLength="143.5" lengthAdjust="spacingAndGlyphs">Eigenvector index</text>
<text transform="translate(398.5,188.5) rotate(-90)" x="0" y="0" font-size="21">Eigenvalue (nm<tspan dx="2" dy="-12" font-size="12.5">2</tspan><tspan dx="-0.5" dy="12">)</tspan></text>
<text x="377.6" y="16" font-size="21" font-weight="bold">(b)</text>
<path d="M624.1,33.4 H641.8" stroke="#151515" stroke-width="1.5"/>
<path d="M624.1,47.8 H641.8" stroke="#cf5a5a" stroke-width="1.5"/>
<text x="647.9" y="37.2" font-size="12.4" fill="#222" textLength="70.8" lengthAdjust="spacingAndGlyphs">G6P-SLC37A4</text>
<text x="647.9" y="52.0" font-size="12.4" fill="#222" textLength="74.5" lengthAdjust="spacingAndGlyphs">CGA-SLC37A4</text>
</svg>
</body></html>
